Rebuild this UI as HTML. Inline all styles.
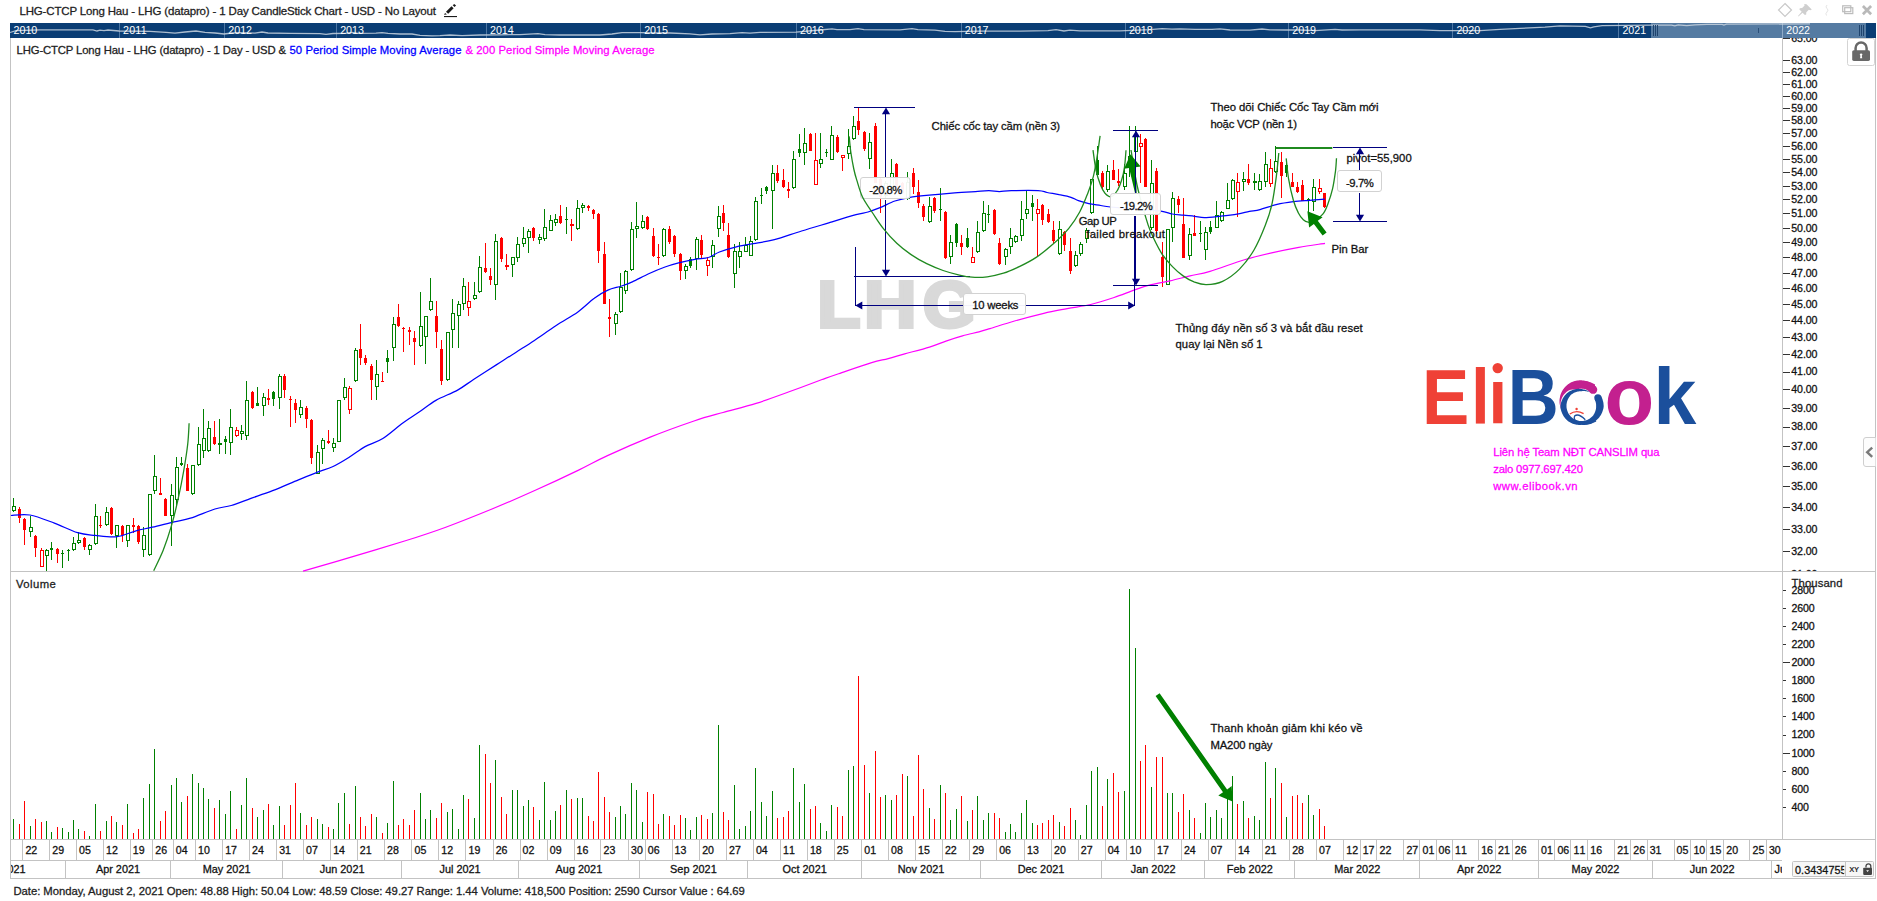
<!DOCTYPE html><html><head><meta charset="utf-8"><title>LHG chart</title><style>html,body{margin:0;padding:0;background:#fff;overflow:hidden}svg{display:block}</style></head><body><svg width="1877" height="901" viewBox="0 0 1877 901" font-family="'Liberation Sans', sans-serif">
<rect width="1877" height="901" fill="#fff"/>
<text x="19.4" y="15.1" font-size="11.5" fill="#222" textLength="416.5" lengthAdjust="spacing" stroke="#222" stroke-width="0.28">LHG-CTCP Long Hau - LHG (datapro) - 1 Day CandleStick Chart - USD - No Layout</text>
<g fill="#1a1a1a"><rect x="444" y="16" width="13" height="1.1"/><path d="M444 14.8 L445.1 12.9 L446.9 14.4 Z"/><path d="M446 11.7 L448.2 13.8 L453.6 8.3 L451.5 6.3 Z"/><path d="M452.7 5.2 L454.2 3.9 L456.1 5.5 L454.5 7.1 Z"/></g>
<g fill="none" stroke="#c9c9c9" stroke-width="1.2"><path d="M1785 3.5 L1791.5 10 L1785 16.5 L1778.5 10 Z"/></g>
<g fill="none" stroke="#bcbcbc" stroke-width="1.2"><rect x="1842.7" y="5.8" width="8.1" height="5.9"/><rect x="1844.7" y="7.7" width="8.1" height="5.9"/></g>
<g stroke="#b9b9b9" stroke-width="2.7" stroke-linecap="butt"><path d="M1862.9 6 L1871.1 14.2 M1871.1 6 L1862.9 14.2"/></g>
<g fill="#cfcfcf" stroke="none"><path d="M1806.5 4.2 L1811.8 9.5 L1810.3 10.2 L1808.8 9.8 L1806.3 12.3 L1806.2 14.6 L1804.9 15 L1802.6 12.7 L1798.4 16.4 L1798 16 L1801.7 11.8 L1799.4 9.5 L1799.8 8.2 L1802.1 8.1 L1804.6 5.6 L1804.2 4.1 Z"/></g>
<g fill="none" stroke="#e4e4e4" stroke-width="1"><path d="M1827 5 q-2 2 0 3.5 q2 1.5 0 3.5 q-2 1.5 -0.5 3.5"/></g>
<rect x="10" y="23" width="1866" height="15" fill="#0a3d74"/>
<rect x="1651" y="23" width="215" height="15" fill="#557ba2"/>
<rect x="119" y="23" width="1" height="15" fill="#4d76a3" shape-rendering="crispEdges"/>
<rect x="224" y="23" width="1" height="15" fill="#4d76a3" shape-rendering="crispEdges"/>
<rect x="336" y="23" width="1" height="15" fill="#4d76a3" shape-rendering="crispEdges"/>
<rect x="486" y="23" width="1" height="15" fill="#4d76a3" shape-rendering="crispEdges"/>
<rect x="640" y="23" width="1" height="15" fill="#4d76a3" shape-rendering="crispEdges"/>
<rect x="796" y="23" width="1" height="15" fill="#4d76a3" shape-rendering="crispEdges"/>
<rect x="961" y="23" width="1" height="15" fill="#4d76a3" shape-rendering="crispEdges"/>
<rect x="1125" y="23" width="1" height="15" fill="#4d76a3" shape-rendering="crispEdges"/>
<rect x="1288" y="23" width="1" height="15" fill="#4d76a3" shape-rendering="crispEdges"/>
<rect x="1452" y="23" width="1" height="15" fill="#4d76a3" shape-rendering="crispEdges"/>
<rect x="1618" y="23" width="1" height="15" fill="#4d76a3" shape-rendering="crispEdges"/>
<rect x="1782" y="23" width="1" height="15" fill="#8fabc8" shape-rendering="crispEdges"/>
<polyline fill="none" stroke="#c9d3df" stroke-opacity="0.85" stroke-width="1.3" points="10,32.5 16,30.6 40,29.8 93,29.8 97,31 100,30.2 104,30.6 108,30 119,31 150,31.4 166,32.3 175,33.2 185,32 196,31 205,32.4 215,33 224,34 232,33 240,32.7 255,33.2 262,32 268,33 290,33.4 320,33.6 326,34.3 333,33.5 345,33.4 352,32.4 358,33.4 376,33.2 382,32.6 388,33.4 400,34 412,34 420,35.3 432,35.8 440,35.6 450,35 462,35.6 480,35 500,34.8 520,34.6 538,33.6 545,34.6 560,35 600,35 612,34 622,32.6 640,32.6 655,33 670,33 690,33.8 700,34.8 712,34 730,33.6 742,32.6 750,33.2 760,32.4 796,32.2 820,30 832,28.8 837,29.6 850,29.6 858,28.6 864,29.6 900,29.8 912,28.6 918,29.6 935,30.2 945,31.4 955,31.6 980,31.2 1020,31.2 1048,30.6 1056,29.6 1064,31 1070,30.2 1080,30.8 1120,30.8 1150,29.6 1162,28.6 1172,29.2 1180,28.8 1195,29.4 1212,29.4 1220,28.8 1230,30 1250,30.2 1262,29 1270,29.8 1285,30 1300,30 1315,30.6 1335,29.4 1342,30 1360,29.8 1420,29.8 1440,30.6 1480,30.6 1500,29.4 1520,28.4 1545,27.2 1560,25.9 1585.3,26.4 1590.4,27.8 1593.8,26.8 1602.2,25.6 1651.2,25.1 1671.5,25.1 1674.9,25.8 1678.2,24.8 1686.7,25.6 1695.1,24.8 1707,24.4 1722.2,24.4 1723.9,25.1 1726.4,24.1 1810,23.9"/>
<text x="13.6" y="33.9" font-size="10.7" fill="#fff" textLength="23.7" lengthAdjust="spacing">2010</text>
<text x="123.0" y="33.9" font-size="10.7" fill="#fff" textLength="23.7" lengthAdjust="spacing">2011</text>
<text x="228.3" y="33.9" font-size="10.7" fill="#fff" textLength="23.7" lengthAdjust="spacing">2012</text>
<text x="340.2" y="33.9" font-size="10.7" fill="#fff" textLength="23.7" lengthAdjust="spacing">2013</text>
<text x="490.0" y="33.9" font-size="10.7" fill="#fff" textLength="23.7" lengthAdjust="spacing">2014</text>
<text x="644.2" y="33.9" font-size="10.7" fill="#fff" textLength="23.7" lengthAdjust="spacing">2015</text>
<text x="800.0" y="33.9" font-size="10.7" fill="#fff" textLength="23.7" lengthAdjust="spacing">2016</text>
<text x="964.8" y="33.9" font-size="10.7" fill="#fff" textLength="23.7" lengthAdjust="spacing">2017</text>
<text x="1128.9" y="33.9" font-size="10.7" fill="#fff" textLength="23.7" lengthAdjust="spacing">2018</text>
<text x="1292.3" y="33.9" font-size="10.7" fill="#fff" textLength="23.7" lengthAdjust="spacing">2019</text>
<text x="1456.4" y="33.9" font-size="10.7" fill="#fff" textLength="23.7" lengthAdjust="spacing">2020</text>
<text x="1622.4" y="33.9" font-size="10.7" fill="#fff" textLength="23.7" lengthAdjust="spacing">2021</text>
<text x="1786.3" y="33.9" font-size="10.7" fill="#fff" textLength="23.7" lengthAdjust="spacing">2022</text>
<rect x="1653" y="25" width="1" height="11" fill="#1f446e" shape-rendering="crispEdges"/>
<rect x="1655" y="25" width="1" height="11" fill="#1f446e" shape-rendering="crispEdges"/>
<rect x="1657" y="25" width="1" height="11" fill="#1f446e" shape-rendering="crispEdges"/>
<rect x="1859" y="25" width="1" height="11" fill="#1f446e" shape-rendering="crispEdges"/>
<rect x="1861" y="25" width="1" height="11" fill="#1f446e" shape-rendering="crispEdges"/>
<rect x="1863" y="25" width="1" height="11" fill="#1f446e" shape-rendering="crispEdges"/>
<rect x="1758" y="28" width="1" height="5" fill="#2a4f78"/>
<g fill="#c3c3c3" shape-rendering="crispEdges">
<rect x="10" y="38" width="1" height="841"/>
<rect x="10" y="571" width="1866" height="1"/>
<rect x="10" y="839" width="1866" height="1"/>
<rect x="10" y="860" width="1772" height="1"/>
<rect x="10" y="878" width="1866" height="1"/>
<rect x="1782" y="38" width="1" height="802"/>
<rect x="1875" y="38" width="1" height="841"/>
</g>
<text x="16.6" y="53.7" font-size="11.3" fill="#222" textLength="269.4" lengthAdjust="spacing" stroke="#222" stroke-width="0.28">LHG-CTCP Long Hau - LHG (datapro) - 1 Day - USD &amp;</text>
<text x="289.5" y="53.7" font-size="11.3" fill="#0000ff" textLength="172.0" lengthAdjust="spacing" stroke="#0000ff" stroke-width="0.28">50 Period Simple Moving Average</text>
<text x="465.4" y="53.7" font-size="11.3" fill="#ff00ff" textLength="189.2" lengthAdjust="spacing" stroke="#ff00ff" stroke-width="0.28">&amp; 200 Period Simple Moving Average</text>
<clipPath id="cpA"><rect x="1783" y="38" width="91" height="533"/></clipPath>
<g clip-path="url(#cpA)">
<rect x="1783" y="573.5" width="7" height="1" fill="#333" shape-rendering="crispEdges"/>
<text x="1791.3" y="577.9" font-size="10.6" fill="#111" textLength="26.2" lengthAdjust="spacing" stroke="#111" stroke-width="0.28">31.00</text>
<rect x="1783" y="550.5" width="7" height="1" fill="#333" shape-rendering="crispEdges"/>
<text x="1791.3" y="554.9" font-size="10.6" fill="#111" textLength="26.2" lengthAdjust="spacing" stroke="#111" stroke-width="0.28">32.00</text>
<rect x="1783" y="528.5" width="7" height="1" fill="#333" shape-rendering="crispEdges"/>
<text x="1791.3" y="532.6" font-size="10.6" fill="#111" textLength="26.2" lengthAdjust="spacing" stroke="#111" stroke-width="0.28">33.00</text>
<rect x="1783" y="506.5" width="7" height="1" fill="#333" shape-rendering="crispEdges"/>
<text x="1791.3" y="511.0" font-size="10.6" fill="#111" textLength="26.2" lengthAdjust="spacing" stroke="#111" stroke-width="0.28">34.00</text>
<rect x="1783" y="485.5" width="7" height="1" fill="#333" shape-rendering="crispEdges"/>
<text x="1791.3" y="490.0" font-size="10.6" fill="#111" textLength="26.2" lengthAdjust="spacing" stroke="#111" stroke-width="0.28">35.00</text>
<rect x="1783" y="465.5" width="7" height="1" fill="#333" shape-rendering="crispEdges"/>
<text x="1791.3" y="469.6" font-size="10.6" fill="#111" textLength="26.2" lengthAdjust="spacing" stroke="#111" stroke-width="0.28">36.00</text>
<rect x="1783" y="445.5" width="7" height="1" fill="#333" shape-rendering="crispEdges"/>
<text x="1791.3" y="449.8" font-size="10.6" fill="#111" textLength="26.2" lengthAdjust="spacing" stroke="#111" stroke-width="0.28">37.00</text>
<rect x="1783" y="426.5" width="7" height="1" fill="#333" shape-rendering="crispEdges"/>
<text x="1791.3" y="430.4" font-size="10.6" fill="#111" textLength="26.2" lengthAdjust="spacing" stroke="#111" stroke-width="0.28">38.00</text>
<rect x="1783" y="407.5" width="7" height="1" fill="#333" shape-rendering="crispEdges"/>
<text x="1791.3" y="411.6" font-size="10.6" fill="#111" textLength="26.2" lengthAdjust="spacing" stroke="#111" stroke-width="0.28">39.00</text>
<rect x="1783" y="388.5" width="7" height="1" fill="#333" shape-rendering="crispEdges"/>
<text x="1791.3" y="393.3" font-size="10.6" fill="#111" textLength="26.2" lengthAdjust="spacing" stroke="#111" stroke-width="0.28">40.00</text>
<rect x="1783" y="371.5" width="7" height="1" fill="#333" shape-rendering="crispEdges"/>
<text x="1791.3" y="375.4" font-size="10.6" fill="#111" textLength="26.2" lengthAdjust="spacing" stroke="#111" stroke-width="0.28">41.00</text>
<rect x="1783" y="353.5" width="7" height="1" fill="#333" shape-rendering="crispEdges"/>
<text x="1791.3" y="358.0" font-size="10.6" fill="#111" textLength="26.2" lengthAdjust="spacing" stroke="#111" stroke-width="0.28">42.00</text>
<rect x="1783" y="336.5" width="7" height="1" fill="#333" shape-rendering="crispEdges"/>
<text x="1791.3" y="340.9" font-size="10.6" fill="#111" textLength="26.2" lengthAdjust="spacing" stroke="#111" stroke-width="0.28">43.00</text>
<rect x="1783" y="319.5" width="7" height="1" fill="#333" shape-rendering="crispEdges"/>
<text x="1791.3" y="324.3" font-size="10.6" fill="#111" textLength="26.2" lengthAdjust="spacing" stroke="#111" stroke-width="0.28">44.00</text>
<rect x="1783" y="303.5" width="7" height="1" fill="#333" shape-rendering="crispEdges"/>
<text x="1791.3" y="308.0" font-size="10.6" fill="#111" textLength="26.2" lengthAdjust="spacing" stroke="#111" stroke-width="0.28">45.00</text>
<rect x="1783" y="287.5" width="7" height="1" fill="#333" shape-rendering="crispEdges"/>
<text x="1791.3" y="292.1" font-size="10.6" fill="#111" textLength="26.2" lengthAdjust="spacing" stroke="#111" stroke-width="0.28">46.00</text>
<rect x="1783" y="272.5" width="7" height="1" fill="#333" shape-rendering="crispEdges"/>
<text x="1791.3" y="276.5" font-size="10.6" fill="#111" textLength="26.2" lengthAdjust="spacing" stroke="#111" stroke-width="0.28">47.00</text>
<rect x="1783" y="256.5" width="7" height="1" fill="#333" shape-rendering="crispEdges"/>
<text x="1791.3" y="261.3" font-size="10.6" fill="#111" textLength="26.2" lengthAdjust="spacing" stroke="#111" stroke-width="0.28">48.00</text>
<rect x="1783" y="241.5" width="7" height="1" fill="#333" shape-rendering="crispEdges"/>
<text x="1791.3" y="246.4" font-size="10.6" fill="#111" textLength="26.2" lengthAdjust="spacing" stroke="#111" stroke-width="0.28">49.00</text>
<rect x="1783" y="227.5" width="7" height="1" fill="#333" shape-rendering="crispEdges"/>
<text x="1791.3" y="231.7" font-size="10.6" fill="#111" textLength="26.2" lengthAdjust="spacing" stroke="#111" stroke-width="0.28">50.00</text>
<rect x="1783" y="212.5" width="7" height="1" fill="#333" shape-rendering="crispEdges"/>
<text x="1791.3" y="217.4" font-size="10.6" fill="#111" textLength="26.2" lengthAdjust="spacing" stroke="#111" stroke-width="0.28">51.00</text>
<rect x="1783" y="198.5" width="7" height="1" fill="#333" shape-rendering="crispEdges"/>
<text x="1791.3" y="203.3" font-size="10.6" fill="#111" textLength="26.2" lengthAdjust="spacing" stroke="#111" stroke-width="0.28">52.00</text>
<rect x="1783" y="185.5" width="7" height="1" fill="#333" shape-rendering="crispEdges"/>
<text x="1791.3" y="189.5" font-size="10.6" fill="#111" textLength="26.2" lengthAdjust="spacing" stroke="#111" stroke-width="0.28">53.00</text>
<rect x="1783" y="171.5" width="7" height="1" fill="#333" shape-rendering="crispEdges"/>
<text x="1791.3" y="176.0" font-size="10.6" fill="#111" textLength="26.2" lengthAdjust="spacing" stroke="#111" stroke-width="0.28">54.00</text>
<rect x="1783" y="158.5" width="7" height="1" fill="#333" shape-rendering="crispEdges"/>
<text x="1791.3" y="162.7" font-size="10.6" fill="#111" textLength="26.2" lengthAdjust="spacing" stroke="#111" stroke-width="0.28">55.00</text>
<rect x="1783" y="145.5" width="7" height="1" fill="#333" shape-rendering="crispEdges"/>
<text x="1791.3" y="149.7" font-size="10.6" fill="#111" textLength="26.2" lengthAdjust="spacing" stroke="#111" stroke-width="0.28">56.00</text>
<rect x="1783" y="132.5" width="7" height="1" fill="#333" shape-rendering="crispEdges"/>
<text x="1791.3" y="136.9" font-size="10.6" fill="#111" textLength="26.2" lengthAdjust="spacing" stroke="#111" stroke-width="0.28">57.00</text>
<rect x="1783" y="119.5" width="7" height="1" fill="#333" shape-rendering="crispEdges"/>
<text x="1791.3" y="124.3" font-size="10.6" fill="#111" textLength="26.2" lengthAdjust="spacing" stroke="#111" stroke-width="0.28">58.00</text>
<rect x="1783" y="107.5" width="7" height="1" fill="#333" shape-rendering="crispEdges"/>
<text x="1791.3" y="111.9" font-size="10.6" fill="#111" textLength="26.2" lengthAdjust="spacing" stroke="#111" stroke-width="0.28">59.00</text>
<rect x="1783" y="95.5" width="7" height="1" fill="#333" shape-rendering="crispEdges"/>
<text x="1791.3" y="99.7" font-size="10.6" fill="#111" textLength="26.2" lengthAdjust="spacing" stroke="#111" stroke-width="0.28">60.00</text>
<rect x="1783" y="83.5" width="7" height="1" fill="#333" shape-rendering="crispEdges"/>
<text x="1791.3" y="87.7" font-size="10.6" fill="#111" textLength="26.2" lengthAdjust="spacing" stroke="#111" stroke-width="0.28">61.00</text>
<rect x="1783" y="71.5" width="7" height="1" fill="#333" shape-rendering="crispEdges"/>
<text x="1791.3" y="76.0" font-size="10.6" fill="#111" textLength="26.2" lengthAdjust="spacing" stroke="#111" stroke-width="0.28">62.00</text>
<rect x="1783" y="59.5" width="7" height="1" fill="#333" shape-rendering="crispEdges"/>
<text x="1791.3" y="64.4" font-size="10.6" fill="#111" textLength="26.2" lengthAdjust="spacing" stroke="#111" stroke-width="0.28">63.00</text>
<rect x="1783" y="37.5" width="7" height="1" fill="#333" shape-rendering="crispEdges"/>
<text x="1791.3" y="41.8" font-size="10.6" fill="#111" textLength="26.2" lengthAdjust="spacing" stroke="#111" stroke-width="0.28">65.00</text>
</g>
<text transform="translate(817.4 327) scale(1.07 1)" font-size="65.4" font-weight="bold" fill="#d9d9d9" stroke="#d9d9d9" stroke-width="4" stroke-linejoin="miter">L</text>
<text transform="translate(864.3 327) scale(1.1 1)" font-size="65.4" font-weight="bold" fill="#d9d9d9" stroke="#d9d9d9" stroke-width="4" stroke-linejoin="miter">H</text>
<text transform="translate(922.9 327) scale(1.03 1)" font-size="65.4" font-weight="bold" fill="#d9d9d9" stroke="#d9d9d9" stroke-width="4" stroke-linejoin="miter">G</text>
<g shape-rendering="crispEdges">
<rect x="13" y="498" width="1" height="14" fill="#008000"/>
<rect x="12.5" y="506.5" width="3" height="4" fill="#fff" stroke="#008000" stroke-width="1"/>
<rect x="19" y="507" width="1" height="16" fill="#ff0000"/>
<rect x="18" y="509" width="3" height="9" fill="#ff0000"/>
<rect x="24" y="518" width="1" height="27" fill="#ff0000"/>
<rect x="23" y="519" width="3" height="11" fill="#ff0000"/>
<rect x="30" y="516" width="1" height="21" fill="#008000"/>
<rect x="29.5" y="527.5" width="3" height="4" fill="#fff" stroke="#008000" stroke-width="1"/>
<rect x="35" y="535" width="1" height="22" fill="#ff0000"/>
<rect x="34" y="536" width="3" height="12" fill="#ff0000"/>
<rect x="41" y="548" width="1" height="19" fill="#ff0000"/>
<rect x="40.5" y="550.5" width="3" height="16" fill="#fff" stroke="#ff0000" stroke-width="1"/>
<rect x="46" y="549" width="1" height="22" fill="#008000"/>
<rect x="45.5" y="550.5" width="3" height="5" fill="#fff" stroke="#008000" stroke-width="1"/>
<rect x="51" y="542" width="1" height="18" fill="#008000"/>
<rect x="50" y="548" width="3" height="2" fill="#008000"/>
<rect x="57" y="548" width="1" height="15" fill="#ff0000"/>
<rect x="56" y="549" width="3" height="5" fill="#ff0000"/>
<rect x="62" y="550" width="1" height="18" fill="#008000"/>
<rect x="61" y="553" width="3" height="1" fill="#008000"/>
<rect x="68" y="549" width="1" height="12" fill="#008000"/>
<rect x="67" y="550" width="3" height="1" fill="#008000"/>
<rect x="73" y="537" width="1" height="14" fill="#008000"/>
<rect x="72.5" y="543.5" width="3" height="6" fill="#fff" stroke="#008000" stroke-width="1"/>
<rect x="78" y="532" width="1" height="12" fill="#008000"/>
<rect x="77.5" y="540.5" width="3" height="2" fill="#fff" stroke="#008000" stroke-width="1"/>
<rect x="84" y="537" width="1" height="13" fill="#ff0000"/>
<rect x="83" y="538" width="3" height="9" fill="#ff0000"/>
<rect x="89" y="544" width="1" height="11" fill="#008000"/>
<rect x="88.5" y="545.5" width="3" height="4" fill="#fff" stroke="#008000" stroke-width="1"/>
<rect x="95" y="504" width="1" height="41" fill="#008000"/>
<rect x="94.5" y="516.5" width="3" height="27" fill="#fff" stroke="#008000" stroke-width="1"/>
<rect x="100" y="516" width="1" height="12" fill="#ff0000"/>
<rect x="99" y="525" width="3" height="1" fill="#ff0000"/>
<rect x="106" y="507" width="1" height="19" fill="#008000"/>
<rect x="105.5" y="512.5" width="3" height="12" fill="#fff" stroke="#008000" stroke-width="1"/>
<rect x="111" y="507" width="1" height="28" fill="#ff0000"/>
<rect x="110" y="508" width="3" height="26" fill="#ff0000"/>
<rect x="116" y="525" width="1" height="23" fill="#008000"/>
<rect x="115.5" y="525.5" width="3" height="10" fill="#fff" stroke="#008000" stroke-width="1"/>
<rect x="122" y="525" width="1" height="17" fill="#ff0000"/>
<rect x="121" y="526" width="3" height="9" fill="#ff0000"/>
<rect x="127" y="525" width="1" height="22" fill="#008000"/>
<rect x="126.5" y="525.5" width="3" height="15" fill="#fff" stroke="#008000" stroke-width="1"/>
<rect x="133" y="518" width="1" height="15" fill="#ff0000"/>
<rect x="132" y="525" width="3" height="2" fill="#ff0000"/>
<rect x="138" y="525" width="1" height="19" fill="#ff0000"/>
<rect x="137" y="526" width="3" height="16" fill="#ff0000"/>
<rect x="143" y="527" width="1" height="30" fill="#008000"/>
<rect x="142.5" y="535.5" width="3" height="14" fill="#fff" stroke="#008000" stroke-width="1"/>
<rect x="149" y="494" width="1" height="62" fill="#008000"/>
<rect x="148.5" y="494.5" width="3" height="60" fill="#fff" stroke="#008000" stroke-width="1"/>
<rect x="154" y="455" width="1" height="39" fill="#008000"/>
<rect x="153.5" y="476.5" width="3" height="14" fill="#fff" stroke="#008000" stroke-width="1"/>
<rect x="160" y="478" width="1" height="17" fill="#ff0000"/>
<rect x="159" y="493" width="3" height="2" fill="#ff0000"/>
<rect x="165" y="498" width="1" height="18" fill="#ff0000"/>
<rect x="164" y="499" width="3" height="17" fill="#ff0000"/>
<rect x="171" y="484" width="1" height="62" fill="#008000"/>
<rect x="170.5" y="495.5" width="3" height="20" fill="#fff" stroke="#008000" stroke-width="1"/>
<rect x="176" y="457" width="1" height="50" fill="#008000"/>
<rect x="175.5" y="467.5" width="3" height="32" fill="#fff" stroke="#008000" stroke-width="1"/>
<rect x="181" y="457" width="1" height="9" fill="#008000"/>
<rect x="180" y="463" width="3" height="2" fill="#008000"/>
<rect x="187" y="464" width="1" height="27" fill="#ff0000"/>
<rect x="186" y="468" width="3" height="23" fill="#ff0000"/>
<rect x="192" y="465" width="1" height="30" fill="#008000"/>
<rect x="191.5" y="465.5" width="3" height="28" fill="#fff" stroke="#008000" stroke-width="1"/>
<rect x="198" y="427" width="1" height="39" fill="#008000"/>
<rect x="197.5" y="444.5" width="3" height="20" fill="#fff" stroke="#008000" stroke-width="1"/>
<rect x="203" y="409" width="1" height="49" fill="#008000"/>
<rect x="202.5" y="438.5" width="3" height="12" fill="#fff" stroke="#008000" stroke-width="1"/>
<rect x="208" y="421" width="1" height="31" fill="#008000"/>
<rect x="207.5" y="428.5" width="3" height="22" fill="#fff" stroke="#008000" stroke-width="1"/>
<rect x="214" y="421" width="1" height="24" fill="#ff0000"/>
<rect x="213" y="437" width="3" height="7" fill="#ff0000"/>
<rect x="219" y="419" width="1" height="35" fill="#008000"/>
<rect x="218" y="443" width="4" height="2" fill="#008000"/>
<rect x="225" y="436" width="1" height="18" fill="#008000"/>
<rect x="224" y="439" width="3" height="3" fill="#008000"/>
<rect x="230" y="409" width="1" height="46" fill="#008000"/>
<rect x="229.5" y="427.5" width="3" height="15" fill="#fff" stroke="#008000" stroke-width="1"/>
<rect x="236" y="427" width="1" height="10" fill="#ff0000"/>
<rect x="235.5" y="430.5" width="3" height="5" fill="#fff" stroke="#ff0000" stroke-width="1"/>
<rect x="241" y="425" width="1" height="15" fill="#008000"/>
<rect x="240.5" y="431.5" width="3" height="2" fill="#fff" stroke="#008000" stroke-width="1"/>
<rect x="246" y="381" width="1" height="59" fill="#008000"/>
<rect x="245.5" y="400.5" width="3" height="35" fill="#fff" stroke="#008000" stroke-width="1"/>
<rect x="252" y="391" width="1" height="18" fill="#ff0000"/>
<rect x="251" y="392" width="3" height="16" fill="#ff0000"/>
<rect x="257" y="387" width="1" height="19" fill="#008000"/>
<rect x="256" y="403" width="3" height="3" fill="#008000"/>
<rect x="263" y="393" width="1" height="23" fill="#008000"/>
<rect x="262.5" y="397.5" width="3" height="8" fill="#fff" stroke="#008000" stroke-width="1"/>
<rect x="268" y="389" width="1" height="16" fill="#ff0000"/>
<rect x="267" y="398" width="3" height="2" fill="#ff0000"/>
<rect x="273" y="391" width="1" height="15" fill="#008000"/>
<rect x="272" y="392" width="3" height="7" fill="#008000"/>
<rect x="279" y="374" width="1" height="35" fill="#008000"/>
<rect x="278.5" y="376.5" width="3" height="21" fill="#fff" stroke="#008000" stroke-width="1"/>
<rect x="284" y="374" width="1" height="24" fill="#ff0000"/>
<rect x="283" y="376" width="3" height="14" fill="#ff0000"/>
<rect x="290" y="396" width="1" height="31" fill="#ff0000"/>
<rect x="289" y="399" width="3" height="1" fill="#ff0000"/>
<rect x="295" y="399" width="1" height="24" fill="#ff0000"/>
<rect x="294" y="403" width="3" height="7" fill="#ff0000"/>
<rect x="300" y="400" width="1" height="18" fill="#008000"/>
<rect x="299.5" y="407.5" width="3" height="7" fill="#fff" stroke="#008000" stroke-width="1"/>
<rect x="306" y="406" width="1" height="22" fill="#ff0000"/>
<rect x="305" y="408" width="3" height="11" fill="#ff0000"/>
<rect x="311" y="419" width="1" height="45" fill="#ff0000"/>
<rect x="310" y="420" width="3" height="38" fill="#ff0000"/>
<rect x="317" y="445" width="1" height="29" fill="#008000"/>
<rect x="316.5" y="452.5" width="3" height="21" fill="#fff" stroke="#008000" stroke-width="1"/>
<rect x="322" y="438" width="1" height="26" fill="#008000"/>
<rect x="321.5" y="440.5" width="3" height="8" fill="#fff" stroke="#008000" stroke-width="1"/>
<rect x="328" y="430" width="1" height="14" fill="#ff0000"/>
<rect x="327" y="441" width="3" height="2" fill="#ff0000"/>
<rect x="333" y="438" width="1" height="14" fill="#008000"/>
<rect x="332.5" y="443.5" width="3" height="4" fill="#fff" stroke="#008000" stroke-width="1"/>
<rect x="338" y="400" width="1" height="42" fill="#008000"/>
<rect x="337.5" y="400.5" width="3" height="41" fill="#fff" stroke="#008000" stroke-width="1"/>
<rect x="344" y="378" width="1" height="22" fill="#008000"/>
<rect x="343.5" y="387.5" width="3" height="10" fill="#fff" stroke="#008000" stroke-width="1"/>
<rect x="349" y="386" width="1" height="28" fill="#ff0000"/>
<rect x="348.5" y="388.5" width="3" height="21" fill="#fff" stroke="#ff0000" stroke-width="1"/>
<rect x="355" y="348" width="1" height="34" fill="#008000"/>
<rect x="354.5" y="350.5" width="3" height="30" fill="#fff" stroke="#008000" stroke-width="1"/>
<rect x="360" y="324" width="1" height="41" fill="#ff0000"/>
<rect x="359" y="349" width="3" height="9" fill="#ff0000"/>
<rect x="365" y="355" width="1" height="10" fill="#ff0000"/>
<rect x="364" y="358" width="3" height="5" fill="#ff0000"/>
<rect x="371" y="364" width="1" height="36" fill="#ff0000"/>
<rect x="370" y="366" width="3" height="14" fill="#ff0000"/>
<rect x="376" y="360" width="1" height="40" fill="#008000"/>
<rect x="375.5" y="374.5" width="3" height="12" fill="#fff" stroke="#008000" stroke-width="1"/>
<rect x="382" y="372" width="1" height="10" fill="#ff0000"/>
<rect x="381" y="381" width="3" height="1" fill="#ff0000"/>
<rect x="387" y="350" width="1" height="23" fill="#008000"/>
<rect x="386" y="358" width="3" height="4" fill="#008000"/>
<rect x="393" y="317" width="1" height="44" fill="#008000"/>
<rect x="392.5" y="324.5" width="3" height="23" fill="#fff" stroke="#008000" stroke-width="1"/>
<rect x="398" y="304" width="1" height="23" fill="#ff0000"/>
<rect x="397" y="317" width="3" height="9" fill="#ff0000"/>
<rect x="403" y="327" width="1" height="25" fill="#ff0000"/>
<rect x="402" y="328" width="3" height="1" fill="#ff0000"/>
<rect x="409" y="327" width="1" height="18" fill="#ff0000"/>
<rect x="408" y="330" width="3" height="2" fill="#ff0000"/>
<rect x="414" y="331" width="1" height="34" fill="#ff0000"/>
<rect x="413" y="338" width="3" height="4" fill="#ff0000"/>
<rect x="420" y="292" width="1" height="55" fill="#008000"/>
<rect x="419.5" y="326.5" width="3" height="19" fill="#fff" stroke="#008000" stroke-width="1"/>
<rect x="425" y="316" width="1" height="48" fill="#008000"/>
<rect x="424.5" y="316.5" width="3" height="20" fill="#fff" stroke="#008000" stroke-width="1"/>
<rect x="430" y="278" width="1" height="33" fill="#008000"/>
<rect x="429.5" y="301.5" width="3" height="8" fill="#fff" stroke="#008000" stroke-width="1"/>
<rect x="436" y="301" width="1" height="47" fill="#ff0000"/>
<rect x="435" y="316" width="3" height="16" fill="#ff0000"/>
<rect x="441" y="340" width="1" height="45" fill="#ff0000"/>
<rect x="440" y="349" width="3" height="32" fill="#ff0000"/>
<rect x="447" y="332" width="1" height="49" fill="#008000"/>
<rect x="446.5" y="332.5" width="3" height="47" fill="#fff" stroke="#008000" stroke-width="1"/>
<rect x="452" y="299" width="1" height="49" fill="#008000"/>
<rect x="451.5" y="313.5" width="3" height="16" fill="#fff" stroke="#008000" stroke-width="1"/>
<rect x="458" y="301" width="1" height="47" fill="#008000"/>
<rect x="457.5" y="304.5" width="3" height="11" fill="#fff" stroke="#008000" stroke-width="1"/>
<rect x="463" y="278" width="1" height="32" fill="#008000"/>
<rect x="462.5" y="286.5" width="3" height="17" fill="#fff" stroke="#008000" stroke-width="1"/>
<rect x="468" y="282" width="1" height="34" fill="#ff0000"/>
<rect x="467.5" y="301.5" width="3" height="6" fill="#fff" stroke="#ff0000" stroke-width="1"/>
<rect x="474" y="282" width="1" height="18" fill="#008000"/>
<rect x="473.5" y="295.5" width="3" height="3" fill="#fff" stroke="#008000" stroke-width="1"/>
<rect x="479" y="256" width="1" height="37" fill="#008000"/>
<rect x="478.5" y="267.5" width="3" height="24" fill="#fff" stroke="#008000" stroke-width="1"/>
<rect x="485" y="243" width="1" height="30" fill="#ff0000"/>
<rect x="484" y="268" width="3" height="4" fill="#ff0000"/>
<rect x="490" y="268" width="1" height="17" fill="#ff0000"/>
<rect x="489" y="276" width="3" height="4" fill="#ff0000"/>
<rect x="495" y="234" width="1" height="66" fill="#008000"/>
<rect x="494.5" y="241.5" width="3" height="43" fill="#fff" stroke="#008000" stroke-width="1"/>
<rect x="501" y="237" width="1" height="25" fill="#ff0000"/>
<rect x="500" y="238" width="3" height="21" fill="#ff0000"/>
<rect x="506" y="254" width="1" height="16" fill="#ff0000"/>
<rect x="505" y="265" width="4" height="2" fill="#ff0000"/>
<rect x="512" y="257" width="1" height="20" fill="#008000"/>
<rect x="511.5" y="257.5" width="3" height="7" fill="#fff" stroke="#008000" stroke-width="1"/>
<rect x="517" y="237" width="1" height="25" fill="#008000"/>
<rect x="516.5" y="244.5" width="3" height="13" fill="#fff" stroke="#008000" stroke-width="1"/>
<rect x="523" y="227" width="1" height="20" fill="#008000"/>
<rect x="522.5" y="238.5" width="3" height="5" fill="#fff" stroke="#008000" stroke-width="1"/>
<rect x="528" y="229" width="1" height="24" fill="#008000"/>
<rect x="527.5" y="231.5" width="3" height="6" fill="#fff" stroke="#008000" stroke-width="1"/>
<rect x="533" y="227" width="1" height="14" fill="#ff0000"/>
<rect x="532" y="228" width="3" height="10" fill="#ff0000"/>
<rect x="539" y="234" width="1" height="10" fill="#008000"/>
<rect x="538.5" y="237.5" width="3" height="2" fill="#fff" stroke="#008000" stroke-width="1"/>
<rect x="544" y="209" width="1" height="32" fill="#008000"/>
<rect x="543.5" y="227.5" width="3" height="11" fill="#fff" stroke="#008000" stroke-width="1"/>
<rect x="550" y="215" width="1" height="16" fill="#008000"/>
<rect x="549.5" y="220.5" width="3" height="10" fill="#fff" stroke="#008000" stroke-width="1"/>
<rect x="555" y="214" width="1" height="12" fill="#008000"/>
<rect x="554.5" y="219.5" width="3" height="3" fill="#fff" stroke="#008000" stroke-width="1"/>
<rect x="560" y="205" width="1" height="19" fill="#ff0000"/>
<rect x="559" y="216" width="3" height="7" fill="#ff0000"/>
<rect x="566" y="207" width="1" height="27" fill="#008000"/>
<rect x="565" y="219" width="3" height="1" fill="#008000"/>
<rect x="571" y="219" width="1" height="22" fill="#ff0000"/>
<rect x="570" y="224" width="4" height="2" fill="#ff0000"/>
<rect x="577" y="200" width="1" height="30" fill="#008000"/>
<rect x="576.5" y="208.5" width="3" height="20" fill="#fff" stroke="#008000" stroke-width="1"/>
<rect x="582" y="203" width="1" height="10" fill="#008000"/>
<rect x="581.5" y="205.5" width="3" height="2" fill="#fff" stroke="#008000" stroke-width="1"/>
<rect x="588" y="205" width="1" height="6" fill="#ff0000"/>
<rect x="587" y="206" width="3" height="2" fill="#ff0000"/>
<rect x="593" y="209" width="1" height="10" fill="#ff0000"/>
<rect x="592" y="210" width="3" height="4" fill="#ff0000"/>
<rect x="598" y="213" width="1" height="50" fill="#ff0000"/>
<rect x="597" y="214" width="3" height="37" fill="#ff0000"/>
<rect x="604" y="242" width="1" height="62" fill="#ff0000"/>
<rect x="603" y="254" width="3" height="50" fill="#ff0000"/>
<rect x="609" y="299" width="1" height="38" fill="#ff0000"/>
<rect x="608" y="317" width="3" height="2" fill="#ff0000"/>
<rect x="615" y="312" width="1" height="23" fill="#008000"/>
<rect x="614.5" y="314.5" width="3" height="9" fill="#fff" stroke="#008000" stroke-width="1"/>
<rect x="620" y="273" width="1" height="40" fill="#008000"/>
<rect x="619.5" y="287.5" width="3" height="24" fill="#fff" stroke="#008000" stroke-width="1"/>
<rect x="625" y="270" width="1" height="24" fill="#008000"/>
<rect x="624.5" y="271.5" width="3" height="19" fill="#fff" stroke="#008000" stroke-width="1"/>
<rect x="631" y="222" width="1" height="49" fill="#008000"/>
<rect x="630.5" y="229.5" width="3" height="40" fill="#fff" stroke="#008000" stroke-width="1"/>
<rect x="636" y="202" width="1" height="36" fill="#008000"/>
<rect x="635.5" y="226.5" width="3" height="2" fill="#fff" stroke="#008000" stroke-width="1"/>
<rect x="642" y="215" width="1" height="14" fill="#008000"/>
<rect x="641.5" y="221.5" width="3" height="6" fill="#fff" stroke="#008000" stroke-width="1"/>
<rect x="647" y="216" width="1" height="14" fill="#ff0000"/>
<rect x="646" y="217" width="3" height="12" fill="#ff0000"/>
<rect x="653" y="228" width="1" height="29" fill="#ff0000"/>
<rect x="652" y="236" width="3" height="20" fill="#ff0000"/>
<rect x="658" y="244" width="1" height="21" fill="#ff0000"/>
<rect x="657" y="257" width="3" height="1" fill="#ff0000"/>
<rect x="663" y="228" width="1" height="29" fill="#008000"/>
<rect x="662.5" y="229.5" width="3" height="26" fill="#fff" stroke="#008000" stroke-width="1"/>
<rect x="669" y="226" width="1" height="18" fill="#ff0000"/>
<rect x="668" y="229" width="3" height="13" fill="#ff0000"/>
<rect x="674" y="235" width="1" height="22" fill="#ff0000"/>
<rect x="673" y="236" width="3" height="18" fill="#ff0000"/>
<rect x="680" y="253" width="1" height="27" fill="#ff0000"/>
<rect x="679" y="254" width="3" height="17" fill="#ff0000"/>
<rect x="685" y="264" width="1" height="15" fill="#008000"/>
<rect x="684.5" y="266.5" width="3" height="4" fill="#fff" stroke="#008000" stroke-width="1"/>
<rect x="690" y="257" width="1" height="11" fill="#008000"/>
<rect x="689" y="259" width="3" height="7" fill="#008000"/>
<rect x="696" y="237" width="1" height="33" fill="#008000"/>
<rect x="695.5" y="239.5" width="3" height="19" fill="#fff" stroke="#008000" stroke-width="1"/>
<rect x="701" y="235" width="1" height="23" fill="#ff0000"/>
<rect x="700" y="240" width="3" height="15" fill="#ff0000"/>
<rect x="707" y="257" width="1" height="19" fill="#ff0000"/>
<rect x="706.5" y="260.5" width="3" height="5" fill="#fff" stroke="#ff0000" stroke-width="1"/>
<rect x="712" y="240" width="1" height="28" fill="#008000"/>
<rect x="711.5" y="245.5" width="3" height="11" fill="#fff" stroke="#008000" stroke-width="1"/>
<rect x="718" y="206" width="1" height="31" fill="#008000"/>
<rect x="717.5" y="216.5" width="3" height="12" fill="#fff" stroke="#008000" stroke-width="1"/>
<rect x="723" y="205" width="1" height="26" fill="#ff0000"/>
<rect x="722" y="213" width="3" height="10" fill="#ff0000"/>
<rect x="728" y="223" width="1" height="35" fill="#ff0000"/>
<rect x="727" y="235" width="3" height="22" fill="#ff0000"/>
<rect x="734" y="244" width="1" height="44" fill="#008000"/>
<rect x="733.5" y="251.5" width="3" height="22" fill="#fff" stroke="#008000" stroke-width="1"/>
<rect x="739" y="242" width="1" height="26" fill="#008000"/>
<rect x="738.5" y="251.5" width="3" height="5" fill="#fff" stroke="#008000" stroke-width="1"/>
<rect x="745" y="237" width="1" height="15" fill="#008000"/>
<rect x="744.5" y="245.5" width="3" height="6" fill="#fff" stroke="#008000" stroke-width="1"/>
<rect x="750" y="236" width="1" height="20" fill="#008000"/>
<rect x="749.5" y="241.5" width="3" height="14" fill="#fff" stroke="#008000" stroke-width="1"/>
<rect x="755" y="197" width="1" height="44" fill="#008000"/>
<rect x="754.5" y="201.5" width="3" height="38" fill="#fff" stroke="#008000" stroke-width="1"/>
<rect x="761" y="188" width="1" height="16" fill="#008000"/>
<rect x="760" y="195" width="3" height="1" fill="#008000"/>
<rect x="766" y="186" width="1" height="8" fill="#008000"/>
<rect x="765" y="187" width="3" height="4" fill="#008000"/>
<rect x="772" y="165" width="1" height="64" fill="#008000"/>
<rect x="771.5" y="173.5" width="3" height="17" fill="#fff" stroke="#008000" stroke-width="1"/>
<rect x="777" y="165" width="1" height="18" fill="#ff0000"/>
<rect x="776" y="173" width="3" height="8" fill="#ff0000"/>
<rect x="783" y="169" width="1" height="19" fill="#ff0000"/>
<rect x="782" y="180" width="3" height="7" fill="#ff0000"/>
<rect x="788" y="182" width="1" height="16" fill="#ff0000"/>
<rect x="787" y="189" width="3" height="2" fill="#ff0000"/>
<rect x="793" y="151" width="1" height="38" fill="#008000"/>
<rect x="792.5" y="159.5" width="3" height="28" fill="#fff" stroke="#008000" stroke-width="1"/>
<rect x="799" y="134" width="1" height="23" fill="#008000"/>
<rect x="798" y="149" width="3" height="4" fill="#008000"/>
<rect x="804" y="128" width="1" height="37" fill="#008000"/>
<rect x="803.5" y="143.5" width="3" height="9" fill="#fff" stroke="#008000" stroke-width="1"/>
<rect x="810" y="133" width="1" height="18" fill="#ff0000"/>
<rect x="809" y="134" width="3" height="17" fill="#ff0000"/>
<rect x="815" y="133" width="1" height="52" fill="#ff0000"/>
<rect x="814.5" y="160.5" width="3" height="24" fill="#fff" stroke="#ff0000" stroke-width="1"/>
<rect x="820" y="133" width="1" height="35" fill="#008000"/>
<rect x="819.5" y="159.5" width="3" height="4" fill="#fff" stroke="#008000" stroke-width="1"/>
<rect x="826" y="149" width="1" height="8" fill="#008000"/>
<rect x="825" y="152" width="3" height="1" fill="#008000"/>
<rect x="831" y="126" width="1" height="34" fill="#008000"/>
<rect x="830.5" y="135.5" width="3" height="24" fill="#fff" stroke="#008000" stroke-width="1"/>
<rect x="837" y="135" width="1" height="18" fill="#ff0000"/>
<rect x="836" y="137" width="3" height="15" fill="#ff0000"/>
<rect x="842" y="155" width="1" height="16" fill="#ff0000"/>
<rect x="841.5" y="155.5" width="3" height="2" fill="#fff" stroke="#ff0000" stroke-width="1"/>
<rect x="848" y="129" width="1" height="30" fill="#008000"/>
<rect x="847.5" y="146.5" width="3" height="7" fill="#fff" stroke="#008000" stroke-width="1"/>
<rect x="853" y="116" width="1" height="24" fill="#008000"/>
<rect x="852.5" y="126.5" width="3" height="12" fill="#fff" stroke="#008000" stroke-width="1"/>
<rect x="858" y="108" width="1" height="27" fill="#ff0000"/>
<rect x="857" y="121" width="3" height="9" fill="#ff0000"/>
<rect x="864" y="131" width="1" height="20" fill="#ff0000"/>
<rect x="863" y="132" width="3" height="17" fill="#ff0000"/>
<rect x="869" y="133" width="1" height="36" fill="#008000"/>
<rect x="868.5" y="142.5" width="3" height="16" fill="#fff" stroke="#008000" stroke-width="1"/>
<rect x="875" y="123" width="1" height="60" fill="#ff0000"/>
<rect x="874" y="126" width="3" height="57" fill="#ff0000"/>
<rect x="880" y="177" width="1" height="36" fill="#ff0000"/>
<rect x="879" y="179" width="3" height="18" fill="#ff0000"/>
<rect x="885" y="181" width="1" height="17" fill="#008000"/>
<rect x="884.5" y="183.5" width="3" height="12" fill="#fff" stroke="#008000" stroke-width="1"/>
<rect x="891" y="159" width="1" height="31" fill="#008000"/>
<rect x="890.5" y="173.5" width="3" height="14" fill="#fff" stroke="#008000" stroke-width="1"/>
<rect x="896" y="163" width="1" height="28" fill="#ff0000"/>
<rect x="895" y="164" width="3" height="25" fill="#ff0000"/>
<rect x="902" y="182" width="1" height="12" fill="#ff0000"/>
<rect x="901" y="183" width="3" height="10" fill="#ff0000"/>
<rect x="907" y="172" width="1" height="28" fill="#008000"/>
<rect x="906.5" y="182.5" width="3" height="16" fill="#fff" stroke="#008000" stroke-width="1"/>
<rect x="913" y="168" width="1" height="26" fill="#ff0000"/>
<rect x="912" y="173" width="3" height="14" fill="#ff0000"/>
<rect x="918" y="180" width="1" height="28" fill="#ff0000"/>
<rect x="917" y="192" width="3" height="11" fill="#ff0000"/>
<rect x="923" y="204" width="1" height="17" fill="#ff0000"/>
<rect x="922" y="206" width="3" height="11" fill="#ff0000"/>
<rect x="929" y="197" width="1" height="26" fill="#008000"/>
<rect x="928.5" y="206.5" width="3" height="15" fill="#fff" stroke="#008000" stroke-width="1"/>
<rect x="934" y="197" width="1" height="16" fill="#ff0000"/>
<rect x="933" y="198" width="3" height="13" fill="#ff0000"/>
<rect x="940" y="188" width="1" height="33" fill="#008000"/>
<rect x="939" y="209" width="3" height="1" fill="#008000"/>
<rect x="945" y="211" width="1" height="48" fill="#ff0000"/>
<rect x="944" y="212" width="3" height="46" fill="#ff0000"/>
<rect x="950" y="235" width="1" height="29" fill="#008000"/>
<rect x="949.5" y="242.5" width="3" height="14" fill="#fff" stroke="#008000" stroke-width="1"/>
<rect x="956" y="223" width="1" height="24" fill="#008000"/>
<rect x="955" y="224" width="3" height="19" fill="#008000"/>
<rect x="961" y="235" width="1" height="20" fill="#ff0000"/>
<rect x="960" y="243" width="3" height="4" fill="#ff0000"/>
<rect x="967" y="228" width="1" height="20" fill="#008000"/>
<rect x="966" y="238" width="3" height="9" fill="#008000"/>
<rect x="972" y="247" width="1" height="16" fill="#ff0000"/>
<rect x="971.5" y="257.5" width="3" height="5" fill="#fff" stroke="#ff0000" stroke-width="1"/>
<rect x="977" y="221" width="1" height="32" fill="#008000"/>
<rect x="976.5" y="232.5" width="3" height="19" fill="#fff" stroke="#008000" stroke-width="1"/>
<rect x="983" y="201" width="1" height="31" fill="#008000"/>
<rect x="982.5" y="213.5" width="3" height="17" fill="#fff" stroke="#008000" stroke-width="1"/>
<rect x="988" y="205" width="1" height="18" fill="#008000"/>
<rect x="987" y="214" width="3" height="1" fill="#008000"/>
<rect x="994" y="209" width="1" height="26" fill="#ff0000"/>
<rect x="993" y="210" width="3" height="24" fill="#ff0000"/>
<rect x="999" y="238" width="1" height="27" fill="#ff0000"/>
<rect x="998" y="243" width="3" height="21" fill="#ff0000"/>
<rect x="1005" y="248" width="1" height="17" fill="#008000"/>
<rect x="1004.5" y="249.5" width="3" height="7" fill="#fff" stroke="#008000" stroke-width="1"/>
<rect x="1010" y="228" width="1" height="26" fill="#008000"/>
<rect x="1009.5" y="238.5" width="3" height="8" fill="#fff" stroke="#008000" stroke-width="1"/>
<rect x="1015" y="235" width="1" height="8" fill="#008000"/>
<rect x="1014.5" y="236.5" width="3" height="5" fill="#fff" stroke="#008000" stroke-width="1"/>
<rect x="1021" y="201" width="1" height="40" fill="#008000"/>
<rect x="1020.5" y="219.5" width="3" height="16" fill="#fff" stroke="#008000" stroke-width="1"/>
<rect x="1026" y="191" width="1" height="28" fill="#008000"/>
<rect x="1025.5" y="209.5" width="3" height="4" fill="#fff" stroke="#008000" stroke-width="1"/>
<rect x="1032" y="195" width="1" height="26" fill="#008000"/>
<rect x="1031" y="203" width="3" height="4" fill="#008000"/>
<rect x="1037" y="199" width="1" height="58" fill="#ff0000"/>
<rect x="1036.5" y="209.5" width="3" height="4" fill="#fff" stroke="#ff0000" stroke-width="1"/>
<rect x="1042" y="204" width="1" height="21" fill="#ff0000"/>
<rect x="1041" y="205" width="3" height="15" fill="#ff0000"/>
<rect x="1048" y="209" width="1" height="14" fill="#ff0000"/>
<rect x="1047" y="214" width="3" height="8" fill="#ff0000"/>
<rect x="1053" y="221" width="1" height="22" fill="#ff0000"/>
<rect x="1052" y="230" width="3" height="11" fill="#ff0000"/>
<rect x="1059" y="221" width="1" height="34" fill="#008000"/>
<rect x="1058.5" y="229.5" width="3" height="24" fill="#fff" stroke="#008000" stroke-width="1"/>
<rect x="1064" y="231" width="1" height="20" fill="#ff0000"/>
<rect x="1063" y="232" width="3" height="13" fill="#ff0000"/>
<rect x="1070" y="238" width="1" height="36" fill="#ff0000"/>
<rect x="1069" y="251" width="3" height="20" fill="#ff0000"/>
<rect x="1075" y="251" width="1" height="16" fill="#008000"/>
<rect x="1074.5" y="255.5" width="3" height="10" fill="#fff" stroke="#008000" stroke-width="1"/>
<rect x="1080" y="242" width="1" height="14" fill="#008000"/>
<rect x="1079.5" y="244.5" width="3" height="9" fill="#fff" stroke="#008000" stroke-width="1"/>
<rect x="1086" y="228" width="1" height="15" fill="#008000"/>
<rect x="1085.5" y="230.5" width="3" height="8" fill="#fff" stroke="#008000" stroke-width="1"/>
<rect x="1091" y="179" width="1" height="35" fill="#008000"/>
<rect x="1090.5" y="179.5" width="3" height="33" fill="#fff" stroke="#008000" stroke-width="1"/>
<rect x="1097" y="146" width="1" height="31" fill="#008000"/>
<rect x="1096" y="160" width="3" height="15" fill="#008000"/>
<rect x="1102" y="171" width="1" height="19" fill="#ff0000"/>
<rect x="1101" y="173" width="3" height="14" fill="#ff0000"/>
<rect x="1107" y="165" width="1" height="27" fill="#008000"/>
<rect x="1106.5" y="171.5" width="3" height="18" fill="#fff" stroke="#008000" stroke-width="1"/>
<rect x="1113" y="160" width="1" height="20" fill="#ff0000"/>
<rect x="1112" y="170" width="3" height="10" fill="#ff0000"/>
<rect x="1118" y="169" width="1" height="17" fill="#ff0000"/>
<rect x="1117" y="181" width="3" height="2" fill="#ff0000"/>
<rect x="1124" y="164" width="1" height="26" fill="#008000"/>
<rect x="1123.5" y="173.5" width="3" height="13" fill="#fff" stroke="#008000" stroke-width="1"/>
<rect x="1129" y="126" width="1" height="51" fill="#008000"/>
<rect x="1128.5" y="156.5" width="3" height="11" fill="#fff" stroke="#008000" stroke-width="1"/>
<rect x="1135" y="126" width="1" height="26" fill="#008000"/>
<rect x="1134.5" y="135.5" width="3" height="16" fill="#fff" stroke="#008000" stroke-width="1"/>
<rect x="1140" y="134" width="1" height="49" fill="#ff0000"/>
<rect x="1139.5" y="143.5" width="3" height="3" fill="#fff" stroke="#ff0000" stroke-width="1"/>
<rect x="1145" y="138" width="1" height="49" fill="#ff0000"/>
<rect x="1144" y="139" width="3" height="48" fill="#ff0000"/>
<rect x="1151" y="160" width="1" height="70" fill="#008000"/>
<rect x="1150.5" y="183.5" width="3" height="44" fill="#fff" stroke="#008000" stroke-width="1"/>
<rect x="1156" y="168" width="1" height="66" fill="#ff0000"/>
<rect x="1155" y="171" width="3" height="60" fill="#ff0000"/>
<rect x="1162" y="242" width="1" height="45" fill="#ff0000"/>
<rect x="1161" y="257" width="3" height="20" fill="#ff0000"/>
<rect x="1167" y="229" width="1" height="56" fill="#008000"/>
<rect x="1166.5" y="229.5" width="3" height="55" fill="#fff" stroke="#008000" stroke-width="1"/>
<rect x="1172" y="192" width="1" height="50" fill="#008000"/>
<rect x="1171.5" y="198.5" width="3" height="29" fill="#fff" stroke="#008000" stroke-width="1"/>
<rect x="1178" y="196" width="1" height="17" fill="#ff0000"/>
<rect x="1177" y="199" width="3" height="6" fill="#ff0000"/>
<rect x="1183" y="198" width="1" height="60" fill="#ff0000"/>
<rect x="1182" y="224" width="3" height="34" fill="#ff0000"/>
<rect x="1189" y="228" width="1" height="32" fill="#008000"/>
<rect x="1188.5" y="234.5" width="3" height="21" fill="#fff" stroke="#008000" stroke-width="1"/>
<rect x="1194" y="215" width="1" height="21" fill="#ff0000"/>
<rect x="1193" y="233" width="3" height="3" fill="#ff0000"/>
<rect x="1200" y="221" width="1" height="21" fill="#008000"/>
<rect x="1199" y="233" width="3" height="1" fill="#008000"/>
<rect x="1205" y="227" width="1" height="33" fill="#008000"/>
<rect x="1204.5" y="232.5" width="3" height="17" fill="#fff" stroke="#008000" stroke-width="1"/>
<rect x="1210" y="221" width="1" height="13" fill="#008000"/>
<rect x="1209" y="227" width="3" height="5" fill="#008000"/>
<rect x="1216" y="201" width="1" height="27" fill="#008000"/>
<rect x="1215.5" y="215.5" width="3" height="12" fill="#fff" stroke="#008000" stroke-width="1"/>
<rect x="1221" y="211" width="1" height="11" fill="#008000"/>
<rect x="1220.5" y="212.5" width="3" height="8" fill="#fff" stroke="#008000" stroke-width="1"/>
<rect x="1227" y="183" width="1" height="26" fill="#008000"/>
<rect x="1226.5" y="200.5" width="3" height="8" fill="#fff" stroke="#008000" stroke-width="1"/>
<rect x="1232" y="179" width="1" height="21" fill="#008000"/>
<rect x="1231.5" y="180.5" width="3" height="18" fill="#fff" stroke="#008000" stroke-width="1"/>
<rect x="1237" y="173" width="1" height="44" fill="#ff0000"/>
<rect x="1236.5" y="182.5" width="3" height="9" fill="#fff" stroke="#ff0000" stroke-width="1"/>
<rect x="1243" y="172" width="1" height="19" fill="#008000"/>
<rect x="1242.5" y="179.5" width="3" height="2" fill="#fff" stroke="#008000" stroke-width="1"/>
<rect x="1248" y="164" width="1" height="21" fill="#ff0000"/>
<rect x="1247" y="179" width="3" height="4" fill="#ff0000"/>
<rect x="1254" y="173" width="1" height="17" fill="#008000"/>
<rect x="1253" y="181" width="4" height="2" fill="#008000"/>
<rect x="1259" y="174" width="1" height="17" fill="#008000"/>
<rect x="1258.5" y="181.5" width="3" height="8" fill="#fff" stroke="#008000" stroke-width="1"/>
<rect x="1265" y="152" width="1" height="35" fill="#008000"/>
<rect x="1264.5" y="164.5" width="3" height="17" fill="#fff" stroke="#008000" stroke-width="1"/>
<rect x="1270" y="159" width="1" height="28" fill="#ff0000"/>
<rect x="1269.5" y="168.5" width="3" height="15" fill="#fff" stroke="#ff0000" stroke-width="1"/>
<rect x="1275" y="146" width="1" height="27" fill="#008000"/>
<rect x="1274.5" y="161.5" width="3" height="10" fill="#fff" stroke="#008000" stroke-width="1"/>
<rect x="1281" y="152" width="1" height="46" fill="#ff0000"/>
<rect x="1280" y="162" width="3" height="14" fill="#ff0000"/>
<rect x="1286" y="159" width="1" height="18" fill="#008000"/>
<rect x="1285" y="165" width="3" height="8" fill="#008000"/>
<rect x="1292" y="173" width="1" height="14" fill="#ff0000"/>
<rect x="1291" y="182" width="3" height="5" fill="#ff0000"/>
<rect x="1297" y="182" width="1" height="11" fill="#ff0000"/>
<rect x="1296" y="187" width="3" height="5" fill="#ff0000"/>
<rect x="1302" y="180" width="1" height="21" fill="#ff0000"/>
<rect x="1301" y="185" width="3" height="16" fill="#ff0000"/>
<rect x="1308" y="198" width="1" height="15" fill="#008000"/>
<rect x="1307" y="199" width="3" height="2" fill="#008000"/>
<rect x="1313" y="179" width="1" height="32" fill="#008000"/>
<rect x="1312.5" y="187.5" width="3" height="14" fill="#fff" stroke="#008000" stroke-width="1"/>
<rect x="1319" y="179" width="1" height="15" fill="#ff0000"/>
<rect x="1318.5" y="188.5" width="3" height="3" fill="#fff" stroke="#ff0000" stroke-width="1"/>
<rect x="1324" y="193" width="1" height="15" fill="#ff0000"/>
<rect x="1323" y="193" width="3" height="14" fill="#ff0000"/>
</g>
<g shape-rendering="crispEdges">
<rect x="13" y="819" width="1" height="20" fill="#008000"/>
<rect x="19" y="824" width="1" height="15" fill="#ff0000"/>
<rect x="24" y="801" width="1" height="38" fill="#ff0000"/>
<rect x="30" y="826" width="1" height="13" fill="#008000"/>
<rect x="35" y="819" width="1" height="20" fill="#ff0000"/>
<rect x="41" y="822" width="1" height="17" fill="#ff0000"/>
<rect x="46" y="821" width="1" height="18" fill="#008000"/>
<rect x="51" y="832" width="1" height="7" fill="#008000"/>
<rect x="57" y="827" width="1" height="12" fill="#ff0000"/>
<rect x="62" y="828" width="1" height="11" fill="#008000"/>
<rect x="68" y="832" width="1" height="7" fill="#008000"/>
<rect x="73" y="820" width="1" height="19" fill="#008000"/>
<rect x="78" y="829" width="1" height="10" fill="#008000"/>
<rect x="84" y="831" width="1" height="8" fill="#ff0000"/>
<rect x="89" y="836" width="1" height="3" fill="#008000"/>
<rect x="95" y="804" width="1" height="35" fill="#008000"/>
<rect x="100" y="831" width="1" height="8" fill="#ff0000"/>
<rect x="106" y="821" width="1" height="18" fill="#008000"/>
<rect x="111" y="816" width="1" height="23" fill="#ff0000"/>
<rect x="116" y="822" width="1" height="17" fill="#008000"/>
<rect x="122" y="825" width="1" height="14" fill="#ff0000"/>
<rect x="127" y="804" width="1" height="35" fill="#008000"/>
<rect x="133" y="833" width="1" height="6" fill="#ff0000"/>
<rect x="138" y="829" width="1" height="10" fill="#ff0000"/>
<rect x="143" y="798" width="1" height="41" fill="#008000"/>
<rect x="149" y="784" width="1" height="55" fill="#008000"/>
<rect x="154" y="749" width="1" height="90" fill="#008000"/>
<rect x="160" y="821" width="1" height="18" fill="#ff0000"/>
<rect x="165" y="811" width="1" height="28" fill="#ff0000"/>
<rect x="171" y="785" width="1" height="54" fill="#008000"/>
<rect x="176" y="778" width="1" height="61" fill="#008000"/>
<rect x="181" y="802" width="1" height="37" fill="#008000"/>
<rect x="187" y="796" width="1" height="43" fill="#ff0000"/>
<rect x="192" y="774" width="1" height="65" fill="#008000"/>
<rect x="198" y="783" width="1" height="56" fill="#008000"/>
<rect x="203" y="788" width="1" height="51" fill="#008000"/>
<rect x="208" y="799" width="1" height="40" fill="#008000"/>
<rect x="214" y="808" width="1" height="31" fill="#ff0000"/>
<rect x="219" y="800" width="1" height="39" fill="#008000"/>
<rect x="225" y="814" width="1" height="25" fill="#008000"/>
<rect x="230" y="791" width="1" height="48" fill="#008000"/>
<rect x="236" y="829" width="1" height="10" fill="#ff0000"/>
<rect x="241" y="805" width="1" height="34" fill="#008000"/>
<rect x="246" y="778" width="1" height="61" fill="#008000"/>
<rect x="252" y="808" width="1" height="31" fill="#ff0000"/>
<rect x="257" y="817" width="1" height="22" fill="#008000"/>
<rect x="263" y="810" width="1" height="29" fill="#008000"/>
<rect x="268" y="804" width="1" height="35" fill="#ff0000"/>
<rect x="273" y="825" width="1" height="14" fill="#008000"/>
<rect x="279" y="806" width="1" height="33" fill="#008000"/>
<rect x="284" y="825" width="1" height="14" fill="#ff0000"/>
<rect x="290" y="805" width="1" height="34" fill="#ff0000"/>
<rect x="295" y="783" width="1" height="56" fill="#ff0000"/>
<rect x="300" y="813" width="1" height="26" fill="#008000"/>
<rect x="306" y="825" width="1" height="14" fill="#ff0000"/>
<rect x="311" y="817" width="1" height="22" fill="#ff0000"/>
<rect x="317" y="819" width="1" height="20" fill="#008000"/>
<rect x="322" y="824" width="1" height="15" fill="#008000"/>
<rect x="328" y="827" width="1" height="12" fill="#ff0000"/>
<rect x="333" y="829" width="1" height="10" fill="#008000"/>
<rect x="338" y="803" width="1" height="36" fill="#008000"/>
<rect x="344" y="793" width="1" height="46" fill="#008000"/>
<rect x="349" y="824" width="1" height="15" fill="#ff0000"/>
<rect x="355" y="786" width="1" height="53" fill="#008000"/>
<rect x="360" y="817" width="1" height="22" fill="#ff0000"/>
<rect x="365" y="826" width="1" height="13" fill="#ff0000"/>
<rect x="371" y="814" width="1" height="25" fill="#ff0000"/>
<rect x="376" y="817" width="1" height="22" fill="#008000"/>
<rect x="382" y="833" width="1" height="6" fill="#ff0000"/>
<rect x="387" y="823" width="1" height="16" fill="#008000"/>
<rect x="393" y="781" width="1" height="58" fill="#008000"/>
<rect x="398" y="825" width="1" height="14" fill="#ff0000"/>
<rect x="403" y="819" width="1" height="20" fill="#ff0000"/>
<rect x="409" y="825" width="1" height="14" fill="#ff0000"/>
<rect x="414" y="810" width="1" height="29" fill="#ff0000"/>
<rect x="420" y="793" width="1" height="46" fill="#008000"/>
<rect x="425" y="819" width="1" height="20" fill="#008000"/>
<rect x="430" y="810" width="1" height="29" fill="#008000"/>
<rect x="436" y="818" width="1" height="21" fill="#ff0000"/>
<rect x="441" y="803" width="1" height="36" fill="#ff0000"/>
<rect x="447" y="812" width="1" height="27" fill="#008000"/>
<rect x="452" y="809" width="1" height="30" fill="#008000"/>
<rect x="458" y="829" width="1" height="10" fill="#008000"/>
<rect x="463" y="795" width="1" height="44" fill="#008000"/>
<rect x="468" y="799" width="1" height="40" fill="#ff0000"/>
<rect x="474" y="818" width="1" height="21" fill="#008000"/>
<rect x="479" y="745" width="1" height="94" fill="#008000"/>
<rect x="485" y="754" width="1" height="85" fill="#ff0000"/>
<rect x="490" y="783" width="1" height="56" fill="#ff0000"/>
<rect x="495" y="760" width="1" height="79" fill="#008000"/>
<rect x="501" y="797" width="1" height="42" fill="#ff0000"/>
<rect x="506" y="814" width="1" height="25" fill="#ff0000"/>
<rect x="512" y="790" width="1" height="49" fill="#008000"/>
<rect x="517" y="790" width="1" height="49" fill="#008000"/>
<rect x="523" y="806" width="1" height="33" fill="#008000"/>
<rect x="528" y="800" width="1" height="39" fill="#008000"/>
<rect x="533" y="807" width="1" height="32" fill="#ff0000"/>
<rect x="539" y="820" width="1" height="19" fill="#008000"/>
<rect x="544" y="782" width="1" height="57" fill="#008000"/>
<rect x="550" y="820" width="1" height="19" fill="#008000"/>
<rect x="555" y="811" width="1" height="28" fill="#008000"/>
<rect x="560" y="805" width="1" height="34" fill="#ff0000"/>
<rect x="566" y="790" width="1" height="49" fill="#008000"/>
<rect x="571" y="799" width="1" height="40" fill="#ff0000"/>
<rect x="577" y="798" width="1" height="41" fill="#008000"/>
<rect x="582" y="798" width="1" height="41" fill="#008000"/>
<rect x="588" y="816" width="1" height="23" fill="#ff0000"/>
<rect x="593" y="821" width="1" height="18" fill="#ff0000"/>
<rect x="598" y="772" width="1" height="67" fill="#ff0000"/>
<rect x="604" y="797" width="1" height="42" fill="#ff0000"/>
<rect x="609" y="812" width="1" height="27" fill="#ff0000"/>
<rect x="615" y="817" width="1" height="22" fill="#008000"/>
<rect x="620" y="806" width="1" height="33" fill="#008000"/>
<rect x="625" y="814" width="1" height="25" fill="#008000"/>
<rect x="631" y="783" width="1" height="56" fill="#008000"/>
<rect x="636" y="790" width="1" height="49" fill="#008000"/>
<rect x="642" y="822" width="1" height="17" fill="#008000"/>
<rect x="647" y="792" width="1" height="47" fill="#ff0000"/>
<rect x="653" y="794" width="1" height="45" fill="#ff0000"/>
<rect x="658" y="824" width="1" height="15" fill="#ff0000"/>
<rect x="663" y="814" width="1" height="25" fill="#008000"/>
<rect x="669" y="816" width="1" height="23" fill="#ff0000"/>
<rect x="674" y="825" width="1" height="14" fill="#ff0000"/>
<rect x="680" y="815" width="1" height="24" fill="#ff0000"/>
<rect x="685" y="818" width="1" height="21" fill="#008000"/>
<rect x="690" y="830" width="1" height="9" fill="#008000"/>
<rect x="696" y="817" width="1" height="22" fill="#008000"/>
<rect x="701" y="815" width="1" height="24" fill="#ff0000"/>
<rect x="707" y="819" width="1" height="20" fill="#ff0000"/>
<rect x="712" y="813" width="1" height="26" fill="#008000"/>
<rect x="718" y="725" width="1" height="114" fill="#008000"/>
<rect x="723" y="812" width="1" height="27" fill="#ff0000"/>
<rect x="728" y="820" width="1" height="19" fill="#ff0000"/>
<rect x="734" y="785" width="1" height="54" fill="#008000"/>
<rect x="739" y="829" width="1" height="10" fill="#008000"/>
<rect x="745" y="826" width="1" height="13" fill="#008000"/>
<rect x="750" y="811" width="1" height="28" fill="#008000"/>
<rect x="755" y="768" width="1" height="71" fill="#008000"/>
<rect x="761" y="802" width="1" height="37" fill="#008000"/>
<rect x="766" y="816" width="1" height="23" fill="#008000"/>
<rect x="772" y="791" width="1" height="48" fill="#008000"/>
<rect x="777" y="818" width="1" height="21" fill="#ff0000"/>
<rect x="783" y="817" width="1" height="22" fill="#ff0000"/>
<rect x="788" y="811" width="1" height="28" fill="#ff0000"/>
<rect x="793" y="768" width="1" height="71" fill="#008000"/>
<rect x="799" y="802" width="1" height="37" fill="#008000"/>
<rect x="804" y="784" width="1" height="55" fill="#008000"/>
<rect x="810" y="809" width="1" height="30" fill="#ff0000"/>
<rect x="815" y="806" width="1" height="33" fill="#ff0000"/>
<rect x="820" y="823" width="1" height="16" fill="#008000"/>
<rect x="826" y="831" width="1" height="8" fill="#008000"/>
<rect x="831" y="805" width="1" height="34" fill="#008000"/>
<rect x="837" y="807" width="1" height="32" fill="#ff0000"/>
<rect x="842" y="816" width="1" height="23" fill="#ff0000"/>
<rect x="848" y="770" width="1" height="69" fill="#008000"/>
<rect x="853" y="766" width="1" height="73" fill="#008000"/>
<rect x="858" y="676" width="1" height="163" fill="#ff0000"/>
<rect x="864" y="765" width="1" height="74" fill="#ff0000"/>
<rect x="869" y="793" width="1" height="46" fill="#008000"/>
<rect x="875" y="751" width="1" height="88" fill="#ff0000"/>
<rect x="880" y="797" width="1" height="42" fill="#ff0000"/>
<rect x="885" y="795" width="1" height="44" fill="#008000"/>
<rect x="891" y="800" width="1" height="39" fill="#008000"/>
<rect x="896" y="795" width="1" height="44" fill="#ff0000"/>
<rect x="902" y="774" width="1" height="65" fill="#ff0000"/>
<rect x="907" y="776" width="1" height="63" fill="#008000"/>
<rect x="913" y="816" width="1" height="23" fill="#ff0000"/>
<rect x="918" y="755" width="1" height="84" fill="#ff0000"/>
<rect x="923" y="789" width="1" height="50" fill="#ff0000"/>
<rect x="929" y="808" width="1" height="31" fill="#008000"/>
<rect x="934" y="819" width="1" height="20" fill="#ff0000"/>
<rect x="940" y="785" width="1" height="54" fill="#008000"/>
<rect x="945" y="793" width="1" height="46" fill="#ff0000"/>
<rect x="950" y="820" width="1" height="19" fill="#008000"/>
<rect x="956" y="809" width="1" height="30" fill="#008000"/>
<rect x="961" y="796" width="1" height="43" fill="#ff0000"/>
<rect x="967" y="821" width="1" height="18" fill="#008000"/>
<rect x="972" y="810" width="1" height="29" fill="#ff0000"/>
<rect x="977" y="796" width="1" height="43" fill="#008000"/>
<rect x="983" y="820" width="1" height="19" fill="#008000"/>
<rect x="988" y="813" width="1" height="26" fill="#008000"/>
<rect x="994" y="813" width="1" height="26" fill="#ff0000"/>
<rect x="999" y="818" width="1" height="21" fill="#ff0000"/>
<rect x="1005" y="832" width="1" height="7" fill="#008000"/>
<rect x="1010" y="824" width="1" height="15" fill="#008000"/>
<rect x="1015" y="832" width="1" height="7" fill="#008000"/>
<rect x="1021" y="813" width="1" height="26" fill="#008000"/>
<rect x="1026" y="800" width="1" height="39" fill="#008000"/>
<rect x="1032" y="823" width="1" height="16" fill="#008000"/>
<rect x="1037" y="825" width="1" height="14" fill="#ff0000"/>
<rect x="1042" y="823" width="1" height="16" fill="#ff0000"/>
<rect x="1048" y="820" width="1" height="19" fill="#ff0000"/>
<rect x="1053" y="815" width="1" height="24" fill="#ff0000"/>
<rect x="1059" y="822" width="1" height="17" fill="#008000"/>
<rect x="1064" y="826" width="1" height="13" fill="#ff0000"/>
<rect x="1070" y="808" width="1" height="31" fill="#ff0000"/>
<rect x="1075" y="820" width="1" height="19" fill="#008000"/>
<rect x="1080" y="835" width="1" height="4" fill="#008000"/>
<rect x="1086" y="805" width="1" height="34" fill="#008000"/>
<rect x="1091" y="771" width="1" height="68" fill="#008000"/>
<rect x="1097" y="767" width="1" height="72" fill="#008000"/>
<rect x="1102" y="806" width="1" height="33" fill="#ff0000"/>
<rect x="1107" y="779" width="1" height="60" fill="#008000"/>
<rect x="1113" y="773" width="1" height="66" fill="#ff0000"/>
<rect x="1118" y="792" width="1" height="47" fill="#ff0000"/>
<rect x="1124" y="791" width="1" height="48" fill="#008000"/>
<rect x="1129" y="589" width="1" height="250" fill="#008000"/>
<rect x="1135" y="648" width="1" height="191" fill="#008000"/>
<rect x="1140" y="761" width="1" height="78" fill="#ff0000"/>
<rect x="1145" y="745" width="1" height="94" fill="#ff0000"/>
<rect x="1151" y="787" width="1" height="52" fill="#008000"/>
<rect x="1156" y="757" width="1" height="82" fill="#ff0000"/>
<rect x="1162" y="757" width="1" height="82" fill="#ff0000"/>
<rect x="1167" y="793" width="1" height="46" fill="#008000"/>
<rect x="1172" y="793" width="1" height="46" fill="#008000"/>
<rect x="1178" y="812" width="1" height="27" fill="#ff0000"/>
<rect x="1183" y="794" width="1" height="45" fill="#ff0000"/>
<rect x="1189" y="810" width="1" height="29" fill="#008000"/>
<rect x="1194" y="818" width="1" height="21" fill="#ff0000"/>
<rect x="1200" y="833" width="1" height="6" fill="#008000"/>
<rect x="1205" y="803" width="1" height="36" fill="#008000"/>
<rect x="1210" y="817" width="1" height="22" fill="#008000"/>
<rect x="1216" y="810" width="1" height="29" fill="#008000"/>
<rect x="1221" y="818" width="1" height="21" fill="#008000"/>
<rect x="1227" y="797" width="1" height="42" fill="#008000"/>
<rect x="1232" y="776" width="1" height="63" fill="#008000"/>
<rect x="1237" y="804" width="1" height="35" fill="#ff0000"/>
<rect x="1243" y="801" width="1" height="38" fill="#008000"/>
<rect x="1248" y="818" width="1" height="21" fill="#ff0000"/>
<rect x="1254" y="816" width="1" height="23" fill="#008000"/>
<rect x="1259" y="820" width="1" height="19" fill="#008000"/>
<rect x="1265" y="762" width="1" height="77" fill="#008000"/>
<rect x="1270" y="798" width="1" height="41" fill="#ff0000"/>
<rect x="1275" y="768" width="1" height="71" fill="#008000"/>
<rect x="1281" y="783" width="1" height="56" fill="#ff0000"/>
<rect x="1286" y="817" width="1" height="22" fill="#008000"/>
<rect x="1292" y="796" width="1" height="43" fill="#ff0000"/>
<rect x="1297" y="795" width="1" height="44" fill="#ff0000"/>
<rect x="1302" y="803" width="1" height="36" fill="#ff0000"/>
<rect x="1308" y="795" width="1" height="44" fill="#008000"/>
<rect x="1313" y="815" width="1" height="24" fill="#008000"/>
<rect x="1319" y="809" width="1" height="30" fill="#ff0000"/>
<rect x="1324" y="826" width="1" height="13" fill="#ff0000"/>
</g>
<path d="M10.9 515.5 C14.1 515.4 22.7 513.7 29.9 515.0 C37.2 516.3 46.5 520.2 54.4 523.1 C62.3 526.1 70.7 530.6 77.5 532.7 C84.3 534.7 88.6 534.7 95.2 535.4 C101.8 536.1 110.2 537.5 117.0 536.7 C123.8 536.0 130.1 532.3 136.0 530.8 C141.9 529.2 146.0 528.7 152.3 527.2 C158.7 525.7 167.8 523.3 174.1 521.8 C180.4 520.3 183.6 520.4 190.4 518.2 C197.2 516.1 208.1 511.1 214.9 509.0 C221.7 506.9 225.2 507.2 231.2 505.5 C237.2 503.7 244.0 500.8 250.9 498.3 C257.8 495.9 264.7 493.8 272.6 490.7 C280.6 487.6 291.0 482.9 298.5 479.8 C306.0 476.7 311.9 474.4 317.5 472.2 C323.2 470.0 327.3 469.2 332.5 466.8 C337.7 464.3 343.4 460.9 348.8 457.5 C354.3 454.2 359.5 449.8 365.1 446.6 C370.8 443.5 376.5 442.5 382.8 438.5 C389.2 434.5 397.1 427.1 403.2 422.7 C409.3 418.3 414.1 415.5 419.5 411.8 C425.0 408.1 429.5 404.0 435.9 400.4 C442.2 396.8 451.3 393.6 457.6 390.1 C464.0 386.5 467.5 383.4 473.9 379.2 C480.4 375.0 489.4 369.3 496.3 364.9 C503.2 360.5 509.0 356.7 515.4 352.7 C521.7 348.6 527.6 345.0 534.4 340.4 C541.2 335.9 548.9 330.2 556.2 325.5 C563.4 320.7 571.6 316.4 577.9 311.9 C584.3 307.3 589.3 301.9 594.3 298.3 C599.2 294.6 603.3 292.1 607.9 290.1 C612.4 288.1 617.4 287.4 621.5 286.0 C625.5 284.7 627.8 284.0 632.3 281.9 C636.9 279.9 643.2 276.3 648.7 273.8 C654.1 271.3 660.0 268.8 665.0 267.0 C670.0 265.2 673.6 264.2 678.6 262.9 C683.6 261.6 689.9 260.3 694.9 259.4 C699.9 258.5 704.4 258.7 708.5 257.5 C712.6 256.2 714.8 253.8 719.4 252.0 C724.0 250.2 730.3 248.3 736.3 246.8 C742.3 245.3 749.0 244.4 755.4 243.3 C761.7 242.1 766.7 241.8 774.4 239.7 C782.1 237.7 792.5 233.8 801.6 231.0 C810.7 228.2 819.7 225.6 828.8 222.9 C837.9 220.1 849.5 216.5 856.0 214.7 C862.5 212.9 864.0 213.2 868.0 212.0 C872.0 210.8 875.5 209.5 880.0 207.7 C884.5 205.9 889.9 202.7 894.9 201.0 C899.9 199.3 904.1 198.3 909.8 197.3 C915.5 196.3 921.7 195.8 929.2 195.1 C936.7 194.3 946.9 193.4 954.6 192.8 C962.3 192.2 969.8 191.9 975.5 191.6 C981.2 191.2 984.9 190.7 988.9 190.7 C992.9 190.7 995.6 191.5 999.3 191.5 C1003.0 191.5 1004.8 190.8 1011.3 190.7 C1017.8 190.5 1032.1 190.3 1038.1 190.6 C1044.1 190.9 1043.6 191.8 1047.1 192.5 C1050.6 193.2 1055.0 193.8 1059.0 194.6 C1063.0 195.4 1067.8 196.3 1071.0 197.3 C1074.2 198.3 1075.4 199.6 1078.4 200.6 C1081.4 201.6 1085.1 202.8 1088.8 203.6 C1092.5 204.4 1097.2 204.9 1100.8 205.5 C1104.4 206.1 1104.5 206.4 1110.5 207.0 C1116.5 207.6 1128.4 208.6 1136.8 209.3 C1145.2 210.0 1155.0 210.4 1160.9 211.2 C1166.8 212.0 1168.4 213.3 1172.2 214.0 C1176.0 214.7 1179.8 214.8 1183.5 215.2 C1187.2 215.6 1191.2 215.9 1194.7 216.3 C1198.2 216.7 1200.1 217.5 1204.4 217.5 C1208.7 217.5 1216.2 216.6 1220.5 216.2 C1224.8 215.8 1226.9 215.6 1230.1 215.2 C1233.3 214.8 1236.6 214.2 1239.8 213.6 C1243.0 213.0 1246.0 212.1 1249.4 211.4 C1252.8 210.7 1255.4 210.8 1260.0 209.6 C1264.6 208.4 1271.5 205.7 1277.1 204.4 C1282.6 203.0 1287.9 202.3 1293.4 201.6 C1298.8 201.0 1304.4 200.7 1309.7 200.3 C1315.0 199.9 1322.4 199.4 1324.9 199.2" fill="none" stroke="#0000ff" stroke-width="1.25"/>
<path d="M303.0 571.1 C310.4 568.9 330.6 563.2 347.7 558.1 C364.8 553.0 389.0 545.9 405.4 540.8 C421.8 535.6 431.4 532.5 445.8 527.2 C460.2 521.9 477.1 515.1 492.0 509.0 C506.9 502.9 520.9 496.8 535.3 490.3 C549.7 483.8 566.6 475.9 578.6 470.1 C590.6 464.3 595.5 461.1 607.5 455.6 C619.5 450.1 636.4 442.7 650.8 436.9 C665.2 431.1 682.0 425.1 694.0 421.0 C706.0 416.9 712.6 415.4 723.0 412.5 C733.4 409.6 745.1 406.8 756.1 403.4 C767.1 399.9 778.1 395.8 789.1 391.8 C800.1 387.8 813.9 382.5 822.1 379.5 C830.4 376.5 830.3 376.5 838.6 373.7 C846.9 370.9 863.4 365.1 871.7 362.6 C880.0 360.1 882.7 360.1 888.2 358.6 C893.7 357.2 897.8 355.8 904.7 353.9 C911.6 352.0 922.6 349.2 929.5 347.1 C936.4 345.0 940.5 343.0 946.0 341.1 C951.5 339.2 957.0 337.4 962.5 335.9 C968.0 334.3 974.4 333.0 979.0 331.8 C983.6 330.6 984.1 330.4 990.0 328.6 C995.9 326.8 1005.5 323.6 1014.5 321.0 C1023.5 318.4 1035.0 315.4 1043.8 313.3 C1052.6 311.2 1059.4 310.1 1067.2 308.6 C1075.0 307.1 1082.9 306.4 1090.7 304.5 C1098.5 302.6 1106.8 299.9 1114.1 297.5 C1121.4 295.1 1128.9 291.9 1134.8 289.9 C1140.7 287.8 1143.4 286.7 1149.3 285.2 C1155.2 283.7 1163.2 282.4 1170.0 280.9 C1176.8 279.3 1183.3 277.5 1190.0 275.9 C1196.7 274.3 1200.9 274.0 1210.0 271.3 C1219.1 268.6 1234.1 262.9 1244.4 259.8 C1254.7 256.7 1262.5 254.9 1271.6 252.8 C1280.7 250.7 1289.9 248.9 1298.8 247.3 C1307.7 245.7 1320.6 244.0 1325.0 243.3" fill="none" stroke="#ff00ff" stroke-width="1.2"/>
<path d="M153.7 570.7 C155.3 567.3 160.2 557.8 163.2 550.3 C166.1 542.8 168.9 534.5 171.4 525.9 C173.9 517.3 176.2 507.8 178.2 498.7 C180.2 489.6 182.0 480.6 183.6 471.5 C185.2 462.4 186.8 452.3 187.7 444.3 C188.6 436.3 188.9 426.8 189.1 423.3" fill="none" stroke="#1f8a1f" stroke-width="1.3"/>
<path d="M1093.0 150.2 C1093.5 153.5 1094.8 164.2 1096.0 170.0 C1097.2 175.8 1099.0 181.1 1100.5 185.0 C1102.0 188.9 1103.2 191.2 1105.0 193.2 C1106.8 195.1 1109.0 197.1 1111.0 196.7 C1113.0 196.3 1115.2 193.7 1117.0 191.0 C1118.8 188.3 1120.2 184.5 1121.5 180.5 C1122.8 176.5 1123.8 172.1 1124.5 167.0 C1125.2 161.9 1125.8 153.0 1126.0 150.2" fill="none" stroke="#1f8a1f" stroke-width="1.3"/>
<path d="M1131.0 150.0 C1132.0 155.8 1134.7 174.2 1137.0 185.0 C1139.3 195.8 1142.8 207.0 1145.0 214.7 C1147.2 222.4 1147.7 224.7 1150.4 231.0 C1153.1 237.3 1157.7 246.9 1161.3 252.8 C1164.9 258.7 1168.6 262.5 1172.2 266.4 C1175.8 270.2 1179.5 273.3 1183.1 275.9 C1186.7 278.5 1190.1 280.4 1194.0 281.9 C1197.9 283.3 1201.5 284.7 1206.3 284.6 C1211.1 284.5 1217.1 283.9 1222.6 281.3 C1228.1 278.7 1234.3 274.3 1239.5 269.1 C1244.7 263.9 1249.7 257.2 1254.0 250.0 C1258.3 242.8 1262.2 233.3 1265.2 225.6 C1268.2 217.9 1270.2 212.0 1272.0 203.8 C1273.8 195.6 1275.2 185.1 1276.3 176.6 C1277.4 168.1 1278.4 156.9 1278.8 153.0" fill="none" stroke="#1f8a1f" stroke-width="1.3"/>
<path d="M1275.7 148 H1332.3" stroke="#1f8a1f" stroke-width="1.8"/>
<path d="M1286.2 158.3 C1286.6 161.7 1287.4 171.7 1288.6 178.8 C1289.8 185.9 1291.9 195.1 1293.5 200.8 C1295.1 206.5 1296.8 209.8 1298.4 213.0 C1300.0 216.2 1301.7 218.2 1303.3 219.7 C1304.9 221.2 1306.3 221.9 1308.1 222.2 C1309.9 222.4 1311.5 222.5 1314.0 221.2 C1316.5 219.9 1320.5 217.0 1322.8 214.2 C1325.1 211.4 1326.1 208.8 1327.7 204.5 C1329.3 200.2 1331.3 194.3 1332.6 188.6 C1333.9 182.9 1334.9 175.4 1335.6 170.3 C1336.2 165.2 1336.3 160.3 1336.5 158.3" fill="none" stroke="#1f8a1f" stroke-width="1.3"/>
<path d="M1136.7 193.3 L1135.6 167.2 L1140.6 166.5 L1130.5 154.3 L1124.1 168.8 L1129.1 168.1 L1135.1 193.5 Z" fill="#008000"/>
<path d="M1326.6 232.4 L1317.8 220.8 L1322.6 217.2 L1307.4 211.2 L1309.1 227.5 L1313.9 223.9 L1322.6 235.4 Z" fill="#008000"/>
<path d="M1155.6 696.1 L1223.0 792.3 L1218.3 795.6 L1232.5 801.5 L1231.7 786.1 L1227.1 789.4 L1159.6 693.3 Z" fill="#008000"/>
<g stroke="#000080" fill="#000080"><path d="M854 107.5 H915 M854 276.5 H915 M885.5 113.5 V177 M885.5 200 V270.5" stroke-width="1" shape-rendering="crispEdges"/><path d="M886.0 107.5 L881.9 114.3 L890.1 114.3 Z" stroke="none"/><path d="M886.0 276.5 L881.9 269.7 L890.1 269.7 Z" stroke="none"/></g>
<path d="M915 276.5 H970" stroke="#000080" stroke-width="1" shape-rendering="crispEdges"/>
<g stroke="#000080" fill="#000080"><path d="M1113 130.5 H1158 M1113 285.5 H1158 M1135.5 136.5 V193 M1135.5 216 V279.5" stroke-width="1" shape-rendering="crispEdges"/><path d="M1136.0 130.5 L1131.9 137.3 L1140.1 137.3 Z" stroke="none"/><path d="M1136.0 285.5 L1131.9 278.7 L1140.1 278.7 Z" stroke="none"/></g>
<g stroke="#000080" fill="#000080"><path d="M1333 147.5 H1387 M1333 221.5 H1387 M1359.5 153.5 V170 M1359.5 193 V215.5" stroke-width="1" shape-rendering="crispEdges"/><path d="M1360.0 147.5 L1355.9 154.3 L1364.1 154.3 Z" stroke="none"/><path d="M1360.0 221.5 L1355.9 214.7 L1364.1 214.7 Z" stroke="none"/></g>
<g stroke="#000080" fill="#000080"><path d="M855.5 247 V306 M1134.5 216 V306 M858 305.5 H1132" stroke-width="1" shape-rendering="crispEdges"/><path d="M855.3 305.5 L862.3 301.6 L862.3 309.4 Z" stroke="none"/><path d="M1135 305.5 L1128.2 301.6 L1128.2 309.4 Z" stroke="none"/></g>
<rect x="860.5" y="177.5" width="49.5" height="21.0" rx="2.5" fill="#fff" fill-opacity="0.94" stroke="#d2d2d2" stroke-width="1"/>
<text x="869.3" y="193.9" font-size="11.3" fill="#111" textLength="33.0" lengthAdjust="spacing" stroke="#111" stroke-width="0.28">-20.8%</text>
<rect x="1110.5" y="193.5" width="50.0" height="21.0" rx="2.5" fill="#fff" fill-opacity="0.94" stroke="#d2d2d2" stroke-width="1"/>
<text x="1120.0" y="209.8" font-size="11.3" fill="#111" textLength="32.7" lengthAdjust="spacing" stroke="#111" stroke-width="0.28">-19.2%</text>
<rect x="1337.5" y="170.5" width="44.0" height="21.0" rx="2.5" fill="#fff" fill-opacity="0.94" stroke="#d2d2d2" stroke-width="1"/>
<text x="1345.9" y="186.8" font-size="11.3" fill="#111" textLength="28.0" lengthAdjust="spacing" stroke="#111" stroke-width="0.28">-9.7%</text>
<rect x="963.5" y="293.5" width="62.0" height="21.0" rx="2.5" fill="#fff" fill-opacity="0.94" stroke="#d2d2d2" stroke-width="1"/>
<text x="972.2" y="308.6" font-size="11.3" fill="#111" textLength="46.3" lengthAdjust="spacing" stroke="#111" stroke-width="0.28">10 weeks</text>
<path d="M849.2 136.4 C849.5 139.0 850.0 146.6 850.8 152.0 C851.6 157.4 852.8 164.3 853.8 169.0 C854.8 173.7 855.2 175.2 856.7 179.9 C858.2 184.6 859.9 191.6 862.5 197.0 C865.1 202.4 868.8 207.3 872.3 212.5 C875.8 217.7 879.1 223.2 883.2 228.3 C887.3 233.4 892.3 239.0 896.8 243.3 C901.3 247.6 905.4 250.7 910.4 254.1 C915.4 257.5 921.2 261.0 926.7 263.7 C932.2 266.4 937.7 268.6 943.1 270.5 C948.5 272.4 954.6 274.0 959.4 275.1 C964.2 276.2 967.4 276.9 972.0 277.2 C976.6 277.5 982.0 277.5 987.2 276.8 C992.5 276.1 998.1 274.9 1003.5 273.2 C1008.9 271.5 1014.3 269.0 1019.8 266.4 C1025.2 263.8 1030.8 261.0 1036.2 257.4 C1041.7 253.8 1047.1 249.4 1052.5 244.6 C1057.9 239.8 1064.3 233.7 1068.8 228.3 C1073.3 222.9 1076.5 217.9 1079.7 212.0 C1082.9 206.1 1085.6 198.8 1087.9 192.9 C1090.2 187.0 1091.7 182.9 1093.3 176.6 C1094.9 170.2 1096.3 161.6 1097.4 154.8 C1098.5 148.0 1099.6 139.0 1100.1 135.8" fill="none" stroke="#1f8a1f" stroke-width="1.3"/>
<text x="931.6" y="130.2" font-size="11.3" fill="#111" textLength="128.5" lengthAdjust="spacing" stroke="#111" stroke-width="0.28">Chiếc cốc tay cầm (nền 3)</text>
<text x="1210.4" y="111.1" font-size="11.3" fill="#111" textLength="168.0" lengthAdjust="spacing" stroke="#111" stroke-width="0.28">Theo dõi Chiếc Cốc Tay Cầm mới</text>
<text x="1210.4" y="128.0" font-size="11.3" fill="#111" textLength="86.5" lengthAdjust="spacing" stroke="#111" stroke-width="0.28">hoặc VCP (nền 1)</text>
<text x="1346.4" y="162.3" font-size="11.3" fill="#111" textLength="65.3" lengthAdjust="spacing" stroke="#111" stroke-width="0.28">pivot=55,900</text>
<text x="1331.5" y="253.1" font-size="11.3" fill="#111" textLength="36.7" lengthAdjust="spacing" stroke="#111" stroke-width="0.28">Pin Bar</text>
<text x="1078.7" y="224.6" font-size="11.3" fill="#111" textLength="38.0" lengthAdjust="spacing" stroke="#111" stroke-width="0.28">Gap UP</text>
<text x="1086.2" y="238.3" font-size="11.3" fill="#111" textLength="78.8" lengthAdjust="spacing" stroke="#111" stroke-width="0.28">failed breakout</text>
<text x="1175.6" y="331.7" font-size="11.3" fill="#111" textLength="187.1" lengthAdjust="spacing" stroke="#111" stroke-width="0.28">Thủng đáy nền số 3 và bắt đầu reset</text>
<text x="1175.6" y="348.4" font-size="11.3" fill="#111" textLength="87.0" lengthAdjust="spacing" stroke="#111" stroke-width="0.28">quay lại Nền số 1</text>
<text x="1210.5" y="732.4" font-size="11.3" fill="#111" textLength="152.0" lengthAdjust="spacing" stroke="#111" stroke-width="0.28">Thanh khoản giảm khi kéo về</text>
<text x="1210.5" y="749.0" font-size="11.3" fill="#111" textLength="61.9" lengthAdjust="spacing" stroke="#111" stroke-width="0.28">MA200 ngày</text>
<text x="1493.2" y="456.2" font-size="11.3" fill="#ff00ff" textLength="166.4" lengthAdjust="spacing" stroke="#ff00ff" stroke-width="0.28">Liên hệ Team NĐT CANSLIM qua</text>
<text x="1493.2" y="473.0" font-size="11.3" fill="#ff00ff" textLength="89.8" lengthAdjust="spacing" stroke="#ff00ff" stroke-width="0.28">zalo 0977.697.420</text>
<text x="1493.2" y="490.4" font-size="11.3" fill="#ff00ff" textLength="84.4" lengthAdjust="spacing" stroke="#ff00ff" stroke-width="0.28">www.elibook.vn</text>
<text transform="translate(1422 423.5) scale(0.92 1.02)" font-size="77" font-weight="bold" fill="#ef4136">E</text>
<text transform="translate(1471.2 423.5) scale(0.855 1.02)" font-size="77" font-weight="bold" fill="#ef4136">l</text>
<text transform="translate(1488.5 423.5) scale(0.873 1.02)" font-size="77" font-weight="bold" fill="#ef4136">i</text>
<text transform="translate(1507.7 423.5) scale(0.917 1.02)" font-size="77" font-weight="bold" fill="#1b4f9c">B</text>
<clipPath id="cpO"><rect x="1557" y="377" width="38" height="12.5"/></clipPath><g clip-path="url(#cpO)">
<text transform="translate(1556.7 423.5) scale(1.057 1.035)" font-size="77" font-weight="bold" fill="#c3208f">o</text>
</g>
<text transform="translate(1604.6 423.5) scale(1.057 1.035)" font-size="77" font-weight="bold" fill="#c3208f">o</text>
<text transform="translate(1653.4 423.5) scale(1.0 1.028)" font-size="77" font-weight="bold" fill="#1b4f9c">k</text>
<rect x="1491.5" y="362" width="13" height="13" fill="#fff"/><circle cx="1497.7" cy="368.1" r="5.2" fill="#ef4136"/>
<path d="M1596.2 386.9 L1595.4 386.2 L1594.6 385.4 L1593.7 384.7 L1592.8 384.1 L1591.9 383.5 L1591.0 382.9 L1590.0 382.4 L1589.0 382.0 L1587.9 381.6 L1586.9 381.2 L1585.8 380.9 L1584.8 380.7 L1583.7 380.5 L1582.6 380.4 L1581.5 380.3 L1580.4 380.3 L1579.3 380.3 L1578.2 380.4 L1577.1 380.6 L1576.1 380.8 L1575.0 381.0 L1573.9 381.3 L1572.9 381.7 L1571.9 382.1 L1570.9 382.6 L1570.0 383.1 L1569.0 383.7 L1568.1 384.3 L1567.2 385.0 L1566.4 385.7 L1565.6 386.4 L1564.9 387.2 L1564.2 388.0 L1563.5 388.9 L1562.9 389.8 L1562.3 390.8 L1561.8 391.7 L1561.3 392.7 L1560.9 393.7 L1560.5 394.7 L1560.2 395.8 L1560.0 396.9 L1559.8 397.9 L1559.6 399.0 L1559.5 400.1 L1559.5 401.2 L1559.5 402.3 L1559.6 403.4 L1559.8 404.5 L1560.0 405.5 L1560.2 406.6 L1560.5 407.7 L1560.9 408.7 L1561.1 408.6 L1560.9 407.5 L1560.7 406.5 L1560.6 405.4 L1560.6 404.3 L1560.6 403.3 L1560.7 402.2 L1560.8 401.2 L1561.1 400.2 L1561.4 399.2 L1561.8 398.3 L1562.2 397.3 L1562.7 396.5 L1563.2 395.6 L1563.8 394.8 L1564.4 394.1 L1565.0 393.4 L1565.7 392.7 L1566.4 392.1 L1567.1 391.5 L1567.8 391.0 L1568.6 390.6 L1569.4 390.2 L1570.1 389.8 L1570.9 389.5 L1571.7 389.3 L1572.5 389.1 L1573.3 388.9 L1574.0 388.7 L1574.7 388.4 L1575.4 388.3 L1576.2 388.2 L1576.9 388.1 L1577.6 388.0 L1578.3 388.0 L1579.0 388.0 L1579.7 388.1 L1580.4 388.2 L1581.1 388.2 L1581.8 388.3 L1582.4 388.4 L1583.1 388.5 L1583.8 388.6 L1584.4 388.8 L1585.1 389.1 L1585.7 389.3 L1586.3 389.6 L1586.9 389.9 L1587.5 390.3 L1588.0 390.7 L1588.6 391.1 L1589.1 391.5 L1589.6 392.0 L1590.1 392.5 Z" fill="#c3208f"/>
<circle cx="1593.1" cy="389.7" r="4.15" fill="#c3208f"/>
<path d="M1589.1 391.7 L1588.3 391.2 L1587.6 390.8 L1586.8 390.4 L1586.0 390.1 L1585.2 389.8 L1584.3 389.6 L1583.5 389.4 L1582.6 389.2 L1581.7 389.1 L1580.8 389.0 L1579.9 388.9 L1579.0 388.8 L1578.0 388.8 L1577.1 388.9 L1576.2 389.0 L1575.2 389.2 L1574.3 389.4 L1573.3 389.7 L1572.4 390.0 L1571.5 390.4 L1570.6 390.8 L1569.7 391.3 L1568.8 391.8 L1568.0 392.4 L1567.2 393.0 L1566.4 393.7 L1565.7 394.5 L1565.0 395.3 L1564.4 396.1 L1563.7 396.9 L1563.2 397.8 L1562.6 398.8 L1562.2 399.8 L1561.7 400.8 L1561.4 401.8 L1561.0 402.8 L1560.8 403.9 L1560.6 405.0 L1560.4 406.1 L1560.5 407.2 L1560.6 408.3 L1560.8 409.4 L1561.1 410.5 L1561.4 411.5 L1561.8 412.6 L1562.2 413.6 L1562.7 414.6 L1563.2 415.5 L1563.8 416.5 L1564.4 417.3 L1565.1 418.2 L1565.8 419.0 L1566.5 419.8 L1567.3 420.5 L1568.1 421.2 L1569.0 421.8 L1569.9 422.3 L1570.8 422.8 L1571.8 423.3 L1572.7 423.7 L1573.7 424.0 L1574.7 424.3 L1575.7 424.5 L1576.7 424.7 L1577.7 424.8 L1578.7 424.9 L1579.7 424.9 L1580.7 424.9 L1581.7 424.8 L1582.7 424.9 L1583.7 424.9 L1584.7 424.9 L1585.7 424.8 L1586.7 424.7 L1587.7 424.5 L1588.7 424.3 L1589.7 424.0 L1590.7 423.7 L1591.6 423.3 L1592.6 422.8 L1593.5 422.3 L1594.4 421.8 L1595.3 421.2 L1596.1 420.5 L1596.9 419.8 L1597.7 419.1 L1598.5 418.3 L1599.2 417.4 L1599.8 416.6 L1600.4 415.7 L1601.0 414.7 L1601.5 413.7 L1602.0 412.7 L1602.4 411.7 L1602.8 410.6 L1603.1 409.5 L1603.4 408.4 L1603.6 407.2 L1603.7 406.1 L1603.6 404.9 L1603.5 403.8 L1603.4 402.7 L1603.1 401.5 L1602.8 400.4 L1602.5 399.3 L1602.1 398.3 L1601.6 397.2 L1601.1 396.2 L1594.7 399.5 L1595.0 400.2 L1595.3 400.9 L1595.5 401.6 L1595.7 402.3 L1595.9 403.1 L1596.0 403.8 L1596.1 404.6 L1596.1 405.3 L1596.1 406.1 L1596.1 406.9 L1596.1 407.6 L1596.0 408.4 L1595.9 409.1 L1595.7 409.9 L1595.5 410.6 L1595.3 411.3 L1595.0 412.0 L1594.7 412.7 L1594.4 413.4 L1594.0 414.1 L1593.6 414.8 L1593.2 415.4 L1592.7 416.0 L1592.2 416.6 L1591.6 417.1 L1591.0 417.6 L1590.4 418.1 L1589.8 418.5 L1589.1 418.9 L1588.4 419.3 L1587.7 419.7 L1587.0 420.0 L1586.3 420.2 L1585.5 420.5 L1584.8 420.6 L1584.0 420.8 L1583.3 420.9 L1582.5 421.0 L1581.7 421.0 L1580.9 421.0 L1580.1 420.9 L1579.4 420.9 L1578.6 420.7 L1577.8 420.6 L1577.1 420.3 L1576.3 420.1 L1575.6 419.8 L1574.9 419.5 L1574.2 419.1 L1573.5 418.7 L1572.8 418.3 L1572.2 417.8 L1571.6 417.3 L1571.0 416.8 L1570.5 416.2 L1570.0 415.6 L1569.5 415.0 L1569.0 414.3 L1568.6 413.7 L1568.2 413.0 L1567.9 412.3 L1567.6 411.5 L1567.3 410.8 L1567.1 410.0 L1566.9 409.3 L1566.7 408.5 L1566.6 407.7 L1566.5 406.9 L1566.5 406.1 L1566.5 405.3 L1566.5 404.5 L1566.6 403.7 L1566.8 402.9 L1566.9 402.1 L1567.1 401.4 L1567.4 400.6 L1567.7 399.9 L1568.0 399.1 L1568.4 398.4 L1568.8 397.7 L1569.2 397.0 L1569.7 396.4 L1570.2 395.7 L1570.7 395.1 L1571.4 394.6 L1572.0 394.1 L1572.7 393.7 L1573.3 393.2 L1574.0 392.8 L1574.8 392.5 L1575.5 392.2 L1576.3 391.9 L1577.0 391.7 L1577.8 391.5 L1578.6 391.4 L1579.4 391.3 L1580.1 391.2 L1580.9 391.2 L1581.7 391.2 L1582.5 391.1 L1583.3 391.1 L1584.1 391.1 L1584.9 391.1 L1585.7 391.2 L1586.5 391.3 L1587.3 391.5 L1588.1 391.7 L1588.9 391.9 Z" fill="#1b4f9c"/>
<circle cx="1597.9" cy="397.8" r="3.6" fill="#1b4f9c"/>
<circle cx="1576.6" cy="409" r="1.2" fill="#ef4136"/><path d="M1569.8 414 Q1576.3 409.3 1583.6 413.6" fill="none" stroke="#ef4136" stroke-width="1.3"/>
<path d="M1585.3 419.8 Q1578.5 412.8 1574.6 416 Q1572.6 420.6 1580 423.6 Q1588 425.6 1596 421" fill="none" stroke="#1b4f9c" stroke-width="1.3"/>
<text x="16.0" y="588.0" font-size="11.3" fill="#222" textLength="39.8" lengthAdjust="spacing" stroke="#222" stroke-width="0.28">Volume</text>
<text x="1791.5" y="587.3" font-size="11.3" fill="#222" textLength="51.0" lengthAdjust="spacing" stroke="#222" stroke-width="0.28">Thousand</text>
<rect x="1783" y="806.5" width="3" height="1" fill="#333" shape-rendering="crispEdges"/>
<text x="1791.5" y="810.5" font-size="10.6" fill="#111" textLength="17.4" lengthAdjust="spacing" stroke="#111" stroke-width="0.28">400</text>
<rect x="1783" y="788.5" width="3" height="1" fill="#333" shape-rendering="crispEdges"/>
<text x="1791.5" y="792.5" font-size="10.6" fill="#111" textLength="17.4" lengthAdjust="spacing" stroke="#111" stroke-width="0.28">600</text>
<rect x="1783" y="770.5" width="3" height="1" fill="#333" shape-rendering="crispEdges"/>
<text x="1791.5" y="774.5" font-size="10.6" fill="#111" textLength="17.4" lengthAdjust="spacing" stroke="#111" stroke-width="0.28">800</text>
<rect x="1783" y="752.5" width="7" height="1" fill="#333" shape-rendering="crispEdges"/>
<text x="1791.5" y="756.5" font-size="10.6" fill="#111" textLength="23.1" lengthAdjust="spacing" stroke="#111" stroke-width="0.28">1000</text>
<rect x="1783" y="734.5" width="3" height="1" fill="#333" shape-rendering="crispEdges"/>
<text x="1791.5" y="738.4" font-size="10.6" fill="#111" textLength="23.1" lengthAdjust="spacing" stroke="#111" stroke-width="0.28">1200</text>
<rect x="1783" y="715.5" width="3" height="1" fill="#333" shape-rendering="crispEdges"/>
<text x="1791.5" y="720.4" font-size="10.6" fill="#111" textLength="23.1" lengthAdjust="spacing" stroke="#111" stroke-width="0.28">1400</text>
<rect x="1783" y="697.5" width="3" height="1" fill="#333" shape-rendering="crispEdges"/>
<text x="1791.5" y="702.4" font-size="10.6" fill="#111" textLength="23.1" lengthAdjust="spacing" stroke="#111" stroke-width="0.28">1600</text>
<rect x="1783" y="679.5" width="3" height="1" fill="#333" shape-rendering="crispEdges"/>
<text x="1791.5" y="684.3" font-size="10.6" fill="#111" textLength="23.1" lengthAdjust="spacing" stroke="#111" stroke-width="0.28">1800</text>
<rect x="1783" y="661.5" width="7" height="1" fill="#333" shape-rendering="crispEdges"/>
<text x="1791.5" y="666.3" font-size="10.6" fill="#111" textLength="23.1" lengthAdjust="spacing" stroke="#111" stroke-width="0.28">2000</text>
<rect x="1783" y="643.5" width="3" height="1" fill="#333" shape-rendering="crispEdges"/>
<text x="1791.5" y="648.3" font-size="10.6" fill="#111" textLength="23.1" lengthAdjust="spacing" stroke="#111" stroke-width="0.28">2200</text>
<rect x="1783" y="625.5" width="3" height="1" fill="#333" shape-rendering="crispEdges"/>
<text x="1791.5" y="630.2" font-size="10.6" fill="#111" textLength="23.1" lengthAdjust="spacing" stroke="#111" stroke-width="0.28">2400</text>
<rect x="1783" y="607.5" width="3" height="1" fill="#333" shape-rendering="crispEdges"/>
<text x="1791.5" y="612.2" font-size="10.6" fill="#111" textLength="23.1" lengthAdjust="spacing" stroke="#111" stroke-width="0.28">2600</text>
<rect x="1783" y="589.5" width="3" height="1" fill="#333" shape-rendering="crispEdges"/>
<text x="1791.5" y="594.2" font-size="10.6" fill="#111" textLength="23.1" lengthAdjust="spacing" stroke="#111" stroke-width="0.28">2800</text>
<clipPath id="cpD"><rect x="11" y="840" width="1771" height="39"/></clipPath><g clip-path="url(#cpD)">
<rect x="22" y="840" width="1" height="20" fill="#c3c3c3" shape-rendering="crispEdges"/>
<text x="25.4" y="854.0" font-size="10.6" fill="#111" textLength="11.8" lengthAdjust="spacing" stroke="#111" stroke-width="0.28">22</text>
<rect x="49" y="840" width="1" height="20" fill="#c3c3c3" shape-rendering="crispEdges"/>
<text x="52.3" y="854.0" font-size="10.6" fill="#111" textLength="11.8" lengthAdjust="spacing" stroke="#111" stroke-width="0.28">29</text>
<rect x="76" y="840" width="1" height="20" fill="#c3c3c3" shape-rendering="crispEdges"/>
<text x="79.1" y="854.0" font-size="10.6" fill="#111" textLength="11.8" lengthAdjust="spacing" stroke="#111" stroke-width="0.28">05</text>
<rect x="103" y="840" width="1" height="20" fill="#c3c3c3" shape-rendering="crispEdges"/>
<text x="106.0" y="854.0" font-size="10.6" fill="#111" textLength="11.8" lengthAdjust="spacing" stroke="#111" stroke-width="0.28">12</text>
<rect x="130" y="840" width="1" height="20" fill="#c3c3c3" shape-rendering="crispEdges"/>
<text x="132.8" y="854.0" font-size="10.6" fill="#111" textLength="11.8" lengthAdjust="spacing" stroke="#111" stroke-width="0.28">19</text>
<rect x="152" y="840" width="1" height="20" fill="#c3c3c3" shape-rendering="crispEdges"/>
<text x="155.3" y="854.0" font-size="10.6" fill="#111" textLength="11.8" lengthAdjust="spacing" stroke="#111" stroke-width="0.28">26</text>
<rect x="173" y="840" width="1" height="20" fill="#c3c3c3" shape-rendering="crispEdges"/>
<text x="175.8" y="854.0" font-size="10.6" fill="#111" textLength="11.8" lengthAdjust="spacing" stroke="#111" stroke-width="0.28">04</text>
<rect x="195" y="840" width="1" height="20" fill="#c3c3c3" shape-rendering="crispEdges"/>
<text x="198.0" y="854.0" font-size="10.6" fill="#111" textLength="11.8" lengthAdjust="spacing" stroke="#111" stroke-width="0.28">10</text>
<rect x="222" y="840" width="1" height="20" fill="#c3c3c3" shape-rendering="crispEdges"/>
<text x="225.2" y="854.0" font-size="10.6" fill="#111" textLength="11.8" lengthAdjust="spacing" stroke="#111" stroke-width="0.28">17</text>
<rect x="249" y="840" width="1" height="20" fill="#c3c3c3" shape-rendering="crispEdges"/>
<text x="252.0" y="854.0" font-size="10.6" fill="#111" textLength="11.8" lengthAdjust="spacing" stroke="#111" stroke-width="0.28">24</text>
<rect x="276" y="840" width="1" height="20" fill="#c3c3c3" shape-rendering="crispEdges"/>
<text x="279.2" y="854.0" font-size="10.6" fill="#111" textLength="11.8" lengthAdjust="spacing" stroke="#111" stroke-width="0.28">31</text>
<rect x="303" y="840" width="1" height="20" fill="#c3c3c3" shape-rendering="crispEdges"/>
<text x="306.1" y="854.0" font-size="10.6" fill="#111" textLength="11.8" lengthAdjust="spacing" stroke="#111" stroke-width="0.28">07</text>
<rect x="330" y="840" width="1" height="20" fill="#c3c3c3" shape-rendering="crispEdges"/>
<text x="333.2" y="854.0" font-size="10.6" fill="#111" textLength="11.8" lengthAdjust="spacing" stroke="#111" stroke-width="0.28">14</text>
<rect x="357" y="840" width="1" height="20" fill="#c3c3c3" shape-rendering="crispEdges"/>
<text x="359.8" y="854.0" font-size="10.6" fill="#111" textLength="11.8" lengthAdjust="spacing" stroke="#111" stroke-width="0.28">21</text>
<rect x="384" y="840" width="1" height="20" fill="#c3c3c3" shape-rendering="crispEdges"/>
<text x="387.0" y="854.0" font-size="10.6" fill="#111" textLength="11.8" lengthAdjust="spacing" stroke="#111" stroke-width="0.28">28</text>
<rect x="411" y="840" width="1" height="20" fill="#c3c3c3" shape-rendering="crispEdges"/>
<text x="414.5" y="854.0" font-size="10.6" fill="#111" textLength="11.8" lengthAdjust="spacing" stroke="#111" stroke-width="0.28">05</text>
<rect x="438" y="840" width="1" height="20" fill="#c3c3c3" shape-rendering="crispEdges"/>
<text x="441.3" y="854.0" font-size="10.6" fill="#111" textLength="11.8" lengthAdjust="spacing" stroke="#111" stroke-width="0.28">12</text>
<rect x="465" y="840" width="1" height="20" fill="#c3c3c3" shape-rendering="crispEdges"/>
<text x="468.5" y="854.0" font-size="10.6" fill="#111" textLength="11.8" lengthAdjust="spacing" stroke="#111" stroke-width="0.28">19</text>
<rect x="493" y="840" width="1" height="20" fill="#c3c3c3" shape-rendering="crispEdges"/>
<text x="495.7" y="854.0" font-size="10.6" fill="#111" textLength="11.8" lengthAdjust="spacing" stroke="#111" stroke-width="0.28">26</text>
<rect x="520" y="840" width="1" height="20" fill="#c3c3c3" shape-rendering="crispEdges"/>
<text x="522.6" y="854.0" font-size="10.6" fill="#111" textLength="11.8" lengthAdjust="spacing" stroke="#111" stroke-width="0.28">02</text>
<rect x="547" y="840" width="1" height="20" fill="#c3c3c3" shape-rendering="crispEdges"/>
<text x="549.8" y="854.0" font-size="10.6" fill="#111" textLength="11.8" lengthAdjust="spacing" stroke="#111" stroke-width="0.28">09</text>
<rect x="574" y="840" width="1" height="20" fill="#c3c3c3" shape-rendering="crispEdges"/>
<text x="576.6" y="854.0" font-size="10.6" fill="#111" textLength="11.8" lengthAdjust="spacing" stroke="#111" stroke-width="0.28">16</text>
<rect x="600" y="840" width="1" height="20" fill="#c3c3c3" shape-rendering="crispEdges"/>
<text x="603.5" y="854.0" font-size="10.6" fill="#111" textLength="11.8" lengthAdjust="spacing" stroke="#111" stroke-width="0.28">23</text>
<rect x="628" y="840" width="1" height="20" fill="#c3c3c3" shape-rendering="crispEdges"/>
<text x="631.0" y="854.0" font-size="10.6" fill="#111" textLength="11.8" lengthAdjust="spacing" stroke="#111" stroke-width="0.28">30</text>
<rect x="645" y="840" width="1" height="20" fill="#c3c3c3" shape-rendering="crispEdges"/>
<text x="647.8" y="854.0" font-size="10.6" fill="#111" textLength="11.8" lengthAdjust="spacing" stroke="#111" stroke-width="0.28">06</text>
<rect x="672" y="840" width="1" height="20" fill="#c3c3c3" shape-rendering="crispEdges"/>
<text x="674.6" y="854.0" font-size="10.6" fill="#111" textLength="11.8" lengthAdjust="spacing" stroke="#111" stroke-width="0.28">13</text>
<rect x="699" y="840" width="1" height="20" fill="#c3c3c3" shape-rendering="crispEdges"/>
<text x="702.2" y="854.0" font-size="10.6" fill="#111" textLength="11.8" lengthAdjust="spacing" stroke="#111" stroke-width="0.28">20</text>
<rect x="726" y="840" width="1" height="20" fill="#c3c3c3" shape-rendering="crispEdges"/>
<text x="729.0" y="854.0" font-size="10.6" fill="#111" textLength="11.8" lengthAdjust="spacing" stroke="#111" stroke-width="0.28">27</text>
<rect x="753" y="840" width="1" height="20" fill="#c3c3c3" shape-rendering="crispEdges"/>
<text x="755.9" y="854.0" font-size="10.6" fill="#111" textLength="11.8" lengthAdjust="spacing" stroke="#111" stroke-width="0.28">04</text>
<rect x="780" y="840" width="1" height="20" fill="#c3c3c3" shape-rendering="crispEdges"/>
<text x="783.1" y="854.0" font-size="10.6" fill="#111" textLength="11.8" lengthAdjust="spacing" stroke="#111" stroke-width="0.28">11</text>
<rect x="807" y="840" width="1" height="20" fill="#c3c3c3" shape-rendering="crispEdges"/>
<text x="809.9" y="854.0" font-size="10.6" fill="#111" textLength="11.8" lengthAdjust="spacing" stroke="#111" stroke-width="0.28">18</text>
<rect x="834" y="840" width="1" height="20" fill="#c3c3c3" shape-rendering="crispEdges"/>
<text x="836.8" y="854.0" font-size="10.6" fill="#111" textLength="11.8" lengthAdjust="spacing" stroke="#111" stroke-width="0.28">25</text>
<rect x="861" y="840" width="1" height="20" fill="#c3c3c3" shape-rendering="crispEdges"/>
<text x="864.3" y="854.0" font-size="10.6" fill="#111" textLength="11.8" lengthAdjust="spacing" stroke="#111" stroke-width="0.28">01</text>
<rect x="888" y="840" width="1" height="20" fill="#c3c3c3" shape-rendering="crispEdges"/>
<text x="891.1" y="854.0" font-size="10.6" fill="#111" textLength="11.8" lengthAdjust="spacing" stroke="#111" stroke-width="0.28">08</text>
<rect x="915" y="840" width="1" height="20" fill="#c3c3c3" shape-rendering="crispEdges"/>
<text x="918.0" y="854.0" font-size="10.6" fill="#111" textLength="11.8" lengthAdjust="spacing" stroke="#111" stroke-width="0.28">15</text>
<rect x="942" y="840" width="1" height="20" fill="#c3c3c3" shape-rendering="crispEdges"/>
<text x="944.9" y="854.0" font-size="10.6" fill="#111" textLength="11.8" lengthAdjust="spacing" stroke="#111" stroke-width="0.28">22</text>
<rect x="969" y="840" width="1" height="20" fill="#c3c3c3" shape-rendering="crispEdges"/>
<text x="972.4" y="854.0" font-size="10.6" fill="#111" textLength="11.8" lengthAdjust="spacing" stroke="#111" stroke-width="0.28">29</text>
<rect x="996" y="840" width="1" height="20" fill="#c3c3c3" shape-rendering="crispEdges"/>
<text x="999.2" y="854.0" font-size="10.6" fill="#111" textLength="11.8" lengthAdjust="spacing" stroke="#111" stroke-width="0.28">06</text>
<rect x="1024" y="840" width="1" height="20" fill="#c3c3c3" shape-rendering="crispEdges"/>
<text x="1027.1" y="854.0" font-size="10.6" fill="#111" textLength="11.8" lengthAdjust="spacing" stroke="#111" stroke-width="0.28">13</text>
<rect x="1051" y="840" width="1" height="20" fill="#c3c3c3" shape-rendering="crispEdges"/>
<text x="1054.0" y="854.0" font-size="10.6" fill="#111" textLength="11.8" lengthAdjust="spacing" stroke="#111" stroke-width="0.28">20</text>
<rect x="1078" y="840" width="1" height="20" fill="#c3c3c3" shape-rendering="crispEdges"/>
<text x="1080.8" y="854.0" font-size="10.6" fill="#111" textLength="11.8" lengthAdjust="spacing" stroke="#111" stroke-width="0.28">27</text>
<rect x="1105" y="840" width="1" height="20" fill="#c3c3c3" shape-rendering="crispEdges"/>
<text x="1107.7" y="854.0" font-size="10.6" fill="#111" textLength="11.8" lengthAdjust="spacing" stroke="#111" stroke-width="0.28">04</text>
<rect x="1126" y="840" width="1" height="20" fill="#c3c3c3" shape-rendering="crispEdges"/>
<text x="1129.5" y="854.0" font-size="10.6" fill="#111" textLength="11.8" lengthAdjust="spacing" stroke="#111" stroke-width="0.28">10</text>
<rect x="1154" y="840" width="1" height="20" fill="#c3c3c3" shape-rendering="crispEdges"/>
<text x="1157.0" y="854.0" font-size="10.6" fill="#111" textLength="11.8" lengthAdjust="spacing" stroke="#111" stroke-width="0.28">17</text>
<rect x="1181" y="840" width="1" height="20" fill="#c3c3c3" shape-rendering="crispEdges"/>
<text x="1183.9" y="854.0" font-size="10.6" fill="#111" textLength="11.8" lengthAdjust="spacing" stroke="#111" stroke-width="0.28">24</text>
<rect x="1208" y="840" width="1" height="20" fill="#c3c3c3" shape-rendering="crispEdges"/>
<text x="1210.7" y="854.0" font-size="10.6" fill="#111" textLength="11.8" lengthAdjust="spacing" stroke="#111" stroke-width="0.28">07</text>
<rect x="1235" y="840" width="1" height="20" fill="#c3c3c3" shape-rendering="crispEdges"/>
<text x="1237.9" y="854.0" font-size="10.6" fill="#111" textLength="11.8" lengthAdjust="spacing" stroke="#111" stroke-width="0.28">14</text>
<rect x="1262" y="840" width="1" height="20" fill="#c3c3c3" shape-rendering="crispEdges"/>
<text x="1264.7" y="854.0" font-size="10.6" fill="#111" textLength="11.8" lengthAdjust="spacing" stroke="#111" stroke-width="0.28">21</text>
<rect x="1289" y="840" width="1" height="20" fill="#c3c3c3" shape-rendering="crispEdges"/>
<text x="1292.2" y="854.0" font-size="10.6" fill="#111" textLength="11.8" lengthAdjust="spacing" stroke="#111" stroke-width="0.28">28</text>
<rect x="1316" y="840" width="1" height="20" fill="#c3c3c3" shape-rendering="crispEdges"/>
<text x="1319.1" y="854.0" font-size="10.6" fill="#111" textLength="11.8" lengthAdjust="spacing" stroke="#111" stroke-width="0.28">07</text>
<rect x="1343" y="840" width="1" height="20" fill="#c3c3c3" shape-rendering="crispEdges"/>
<text x="1346.3" y="854.0" font-size="10.6" fill="#111" textLength="11.8" lengthAdjust="spacing" stroke="#111" stroke-width="0.28">12</text>
<rect x="1360" y="840" width="1" height="20" fill="#c3c3c3" shape-rendering="crispEdges"/>
<text x="1362.7" y="854.0" font-size="10.6" fill="#111" textLength="11.8" lengthAdjust="spacing" stroke="#111" stroke-width="0.28">17</text>
<rect x="1376" y="840" width="1" height="20" fill="#c3c3c3" shape-rendering="crispEdges"/>
<text x="1379.5" y="854.0" font-size="10.6" fill="#111" textLength="11.8" lengthAdjust="spacing" stroke="#111" stroke-width="0.28">22</text>
<rect x="1403" y="840" width="1" height="20" fill="#c3c3c3" shape-rendering="crispEdges"/>
<text x="1406.4" y="854.0" font-size="10.6" fill="#111" textLength="11.8" lengthAdjust="spacing" stroke="#111" stroke-width="0.28">27</text>
<rect x="1419" y="840" width="1" height="20" fill="#c3c3c3" shape-rendering="crispEdges"/>
<text x="1422.5" y="854.0" font-size="10.6" fill="#111" textLength="11.8" lengthAdjust="spacing" stroke="#111" stroke-width="0.28">01</text>
<rect x="1436" y="840" width="1" height="20" fill="#c3c3c3" shape-rendering="crispEdges"/>
<text x="1438.6" y="854.0" font-size="10.6" fill="#111" textLength="11.8" lengthAdjust="spacing" stroke="#111" stroke-width="0.28">06</text>
<rect x="1452" y="840" width="1" height="20" fill="#c3c3c3" shape-rendering="crispEdges"/>
<text x="1455.0" y="854.0" font-size="10.6" fill="#111" textLength="11.8" lengthAdjust="spacing" stroke="#111" stroke-width="0.28">11</text>
<rect x="1478" y="840" width="1" height="20" fill="#c3c3c3" shape-rendering="crispEdges"/>
<text x="1481.2" y="854.0" font-size="10.6" fill="#111" textLength="11.8" lengthAdjust="spacing" stroke="#111" stroke-width="0.28">16</text>
<rect x="1495" y="840" width="1" height="20" fill="#c3c3c3" shape-rendering="crispEdges"/>
<text x="1498.0" y="854.0" font-size="10.6" fill="#111" textLength="11.8" lengthAdjust="spacing" stroke="#111" stroke-width="0.28">21</text>
<rect x="1512" y="840" width="1" height="20" fill="#c3c3c3" shape-rendering="crispEdges"/>
<text x="1514.8" y="854.0" font-size="10.6" fill="#111" textLength="11.8" lengthAdjust="spacing" stroke="#111" stroke-width="0.28">26</text>
<rect x="1538" y="840" width="1" height="20" fill="#c3c3c3" shape-rendering="crispEdges"/>
<text x="1541.0" y="854.0" font-size="10.6" fill="#111" textLength="11.8" lengthAdjust="spacing" stroke="#111" stroke-width="0.28">01</text>
<rect x="1554" y="840" width="1" height="20" fill="#c3c3c3" shape-rendering="crispEdges"/>
<text x="1557.4" y="854.0" font-size="10.6" fill="#111" textLength="11.8" lengthAdjust="spacing" stroke="#111" stroke-width="0.28">06</text>
<rect x="1570" y="840" width="1" height="20" fill="#c3c3c3" shape-rendering="crispEdges"/>
<text x="1573.5" y="854.0" font-size="10.6" fill="#111" textLength="11.8" lengthAdjust="spacing" stroke="#111" stroke-width="0.28">11</text>
<rect x="1587" y="840" width="1" height="20" fill="#c3c3c3" shape-rendering="crispEdges"/>
<text x="1590.3" y="854.0" font-size="10.6" fill="#111" textLength="11.8" lengthAdjust="spacing" stroke="#111" stroke-width="0.28">16</text>
<rect x="1614" y="840" width="1" height="20" fill="#c3c3c3" shape-rendering="crispEdges"/>
<text x="1617.2" y="854.0" font-size="10.6" fill="#111" textLength="11.8" lengthAdjust="spacing" stroke="#111" stroke-width="0.28">21</text>
<rect x="1630" y="840" width="1" height="20" fill="#c3c3c3" shape-rendering="crispEdges"/>
<text x="1633.3" y="854.0" font-size="10.6" fill="#111" textLength="11.8" lengthAdjust="spacing" stroke="#111" stroke-width="0.28">26</text>
<rect x="1647" y="840" width="1" height="20" fill="#c3c3c3" shape-rendering="crispEdges"/>
<text x="1649.7" y="854.0" font-size="10.6" fill="#111" textLength="11.8" lengthAdjust="spacing" stroke="#111" stroke-width="0.28">31</text>
<rect x="1674" y="840" width="1" height="20" fill="#c3c3c3" shape-rendering="crispEdges"/>
<text x="1676.6" y="854.0" font-size="10.6" fill="#111" textLength="11.8" lengthAdjust="spacing" stroke="#111" stroke-width="0.28">05</text>
<rect x="1690" y="840" width="1" height="20" fill="#c3c3c3" shape-rendering="crispEdges"/>
<text x="1693.4" y="854.0" font-size="10.6" fill="#111" textLength="11.8" lengthAdjust="spacing" stroke="#111" stroke-width="0.28">10</text>
<rect x="1706" y="840" width="1" height="20" fill="#c3c3c3" shape-rendering="crispEdges"/>
<text x="1709.5" y="854.0" font-size="10.6" fill="#111" textLength="11.8" lengthAdjust="spacing" stroke="#111" stroke-width="0.28">15</text>
<rect x="1723" y="840" width="1" height="20" fill="#c3c3c3" shape-rendering="crispEdges"/>
<text x="1726.3" y="854.0" font-size="10.6" fill="#111" textLength="11.8" lengthAdjust="spacing" stroke="#111" stroke-width="0.28">20</text>
<rect x="1749" y="840" width="1" height="20" fill="#c3c3c3" shape-rendering="crispEdges"/>
<text x="1752.5" y="854.0" font-size="10.6" fill="#111" textLength="11.8" lengthAdjust="spacing" stroke="#111" stroke-width="0.28">25</text>
<rect x="1766" y="840" width="1" height="20" fill="#c3c3c3" shape-rendering="crispEdges"/>
<text x="1768.9" y="854.0" font-size="10.6" fill="#111" textLength="11.8" lengthAdjust="spacing" stroke="#111" stroke-width="0.28">30</text>
<rect x="65" y="861" width="1" height="18" fill="#c3c3c3" shape-rendering="crispEdges"/>
<text x="-20.4" y="872.9" font-size="10.9" fill="#111" stroke="#111" stroke-width="0.28">Mar 2021</text>
<rect x="170" y="861" width="1" height="18" fill="#c3c3c3" shape-rendering="crispEdges"/>
<text x="118.0" y="872.9" font-size="10.9" fill="#111" text-anchor="middle" stroke="#111" stroke-width="0.28">Apr 2021</text>
<rect x="282" y="861" width="1" height="18" fill="#c3c3c3" shape-rendering="crispEdges"/>
<text x="226.6" y="872.9" font-size="10.9" fill="#111" text-anchor="middle" stroke="#111" stroke-width="0.28">May 2021</text>
<rect x="401" y="861" width="1" height="18" fill="#c3c3c3" shape-rendering="crispEdges"/>
<text x="342.1" y="872.9" font-size="10.9" fill="#111" text-anchor="middle" stroke="#111" stroke-width="0.28">Jun 2021</text>
<rect x="518" y="861" width="1" height="18" fill="#c3c3c3" shape-rendering="crispEdges"/>
<text x="460.1" y="872.9" font-size="10.9" fill="#111" text-anchor="middle" stroke="#111" stroke-width="0.28">Jul 2021</text>
<rect x="639" y="861" width="1" height="18" fill="#c3c3c3" shape-rendering="crispEdges"/>
<text x="578.9" y="872.9" font-size="10.9" fill="#111" text-anchor="middle" stroke="#111" stroke-width="0.28">Aug 2021</text>
<rect x="747" y="861" width="1" height="18" fill="#c3c3c3" shape-rendering="crispEdges"/>
<text x="693.4" y="872.9" font-size="10.9" fill="#111" text-anchor="middle" stroke="#111" stroke-width="0.28">Sep 2021</text>
<rect x="861" y="861" width="1" height="18" fill="#c3c3c3" shape-rendering="crispEdges"/>
<text x="804.7" y="872.9" font-size="10.9" fill="#111" text-anchor="middle" stroke="#111" stroke-width="0.28">Oct 2021</text>
<rect x="980" y="861" width="1" height="18" fill="#c3c3c3" shape-rendering="crispEdges"/>
<text x="921.0" y="872.9" font-size="10.9" fill="#111" text-anchor="middle" stroke="#111" stroke-width="0.28">Nov 2021</text>
<rect x="1101" y="861" width="1" height="18" fill="#c3c3c3" shape-rendering="crispEdges"/>
<text x="1041.0" y="872.9" font-size="10.9" fill="#111" text-anchor="middle" stroke="#111" stroke-width="0.28">Dec 2021</text>
<rect x="1204" y="861" width="1" height="18" fill="#c3c3c3" shape-rendering="crispEdges"/>
<text x="1153.2" y="872.9" font-size="10.9" fill="#111" text-anchor="middle" stroke="#111" stroke-width="0.28">Jan 2022</text>
<rect x="1294" y="861" width="1" height="18" fill="#c3c3c3" shape-rendering="crispEdges"/>
<text x="1249.8" y="872.9" font-size="10.9" fill="#111" text-anchor="middle" stroke="#111" stroke-width="0.28">Feb 2022</text>
<rect x="1419" y="861" width="1" height="18" fill="#c3c3c3" shape-rendering="crispEdges"/>
<text x="1357.3" y="872.9" font-size="10.9" fill="#111" text-anchor="middle" stroke="#111" stroke-width="0.28">Mar 2022</text>
<rect x="1538" y="861" width="1" height="18" fill="#c3c3c3" shape-rendering="crispEdges"/>
<text x="1479.2" y="872.9" font-size="10.9" fill="#111" text-anchor="middle" stroke="#111" stroke-width="0.28">Apr 2022</text>
<rect x="1652" y="861" width="1" height="18" fill="#c3c3c3" shape-rendering="crispEdges"/>
<text x="1595.5" y="872.9" font-size="10.9" fill="#111" text-anchor="middle" stroke="#111" stroke-width="0.28">May 2022</text>
<rect x="1771" y="861" width="1" height="18" fill="#c3c3c3" shape-rendering="crispEdges"/>
<text x="1712.1" y="872.9" font-size="10.9" fill="#111" text-anchor="middle" stroke="#111" stroke-width="0.28">Jun 2022</text>
<rect x="1820" y="861" width="1" height="18" fill="#c3c3c3" shape-rendering="crispEdges"/>
<text x="1774.5" y="872.9" font-size="10.9" fill="#111" stroke="#111" stroke-width="0.28">Jul 2022</text>
</g>
<rect x="1783" y="861" width="92" height="17" fill="#fff"/>
<rect x="1792.5" y="861.5" width="81" height="15" rx="1" fill="#f7f7f7" stroke="#c4c4c4"/>
<clipPath id="cpN"><rect x="1793" y="862" width="51.2" height="14"/></clipPath>
<text x="1795.0" y="873.9" font-size="10.8" fill="#111" textLength="51.6" lengthAdjust="spacing" stroke="#111" stroke-width="0.28" clip-path="url(#cpN)">0.3434755</text>
<rect x="1845" y="862" width="1" height="14" fill="#c4c4c4" shape-rendering="crispEdges"/>
<text x="1849.2" y="872.1" font-size="7.6" fill="#333" textLength="9.9" lengthAdjust="spacing" font-weight="bold">XY</text>
<g fill="#444"><rect x="1863.2" y="867.7" width="8.8" height="7.2" rx="0.8"/><path d="M1866 867.5 v-1.3 a2.4 2.4 0 0 1 4.8 0 v2" fill="none" stroke="#444" stroke-width="1.3"/><path d="M1866.2 870.3 h2.8 l-1.4 1.7 z" fill="#fff"/></g>
<rect x="1847.5" y="38.5" width="27" height="27" rx="2" fill="#fff" stroke="#d4d4d4"/>
<g fill="#686868"><rect x="1852.2" y="50.2" width="17.8" height="10.7" rx="1.6"/><path d="M1855.6 51.5 v-3.6 a5.5 5.5 0 0 1 11 0 v3.6" fill="none" stroke="#686868" stroke-width="2.5"/><circle cx="1861.1" cy="54.6" r="1.2" fill="#fff"/><path d="M1860.5 55 h1.2 l0.5 3.2 h-2.2 z" fill="#fff"/></g>
<path d="M1875.5 437.5 H1866 a2.5 2.5 0 0 0 -2.5 2.5 V464 a2.5 2.5 0 0 0 2.5 2.5 H1875.5" fill="#fdfdfd" stroke="#cfcfcf"/>
<path d="M1872.2 447.6 L1867.2 452.2 L1872.2 456.8" fill="none" stroke="#7a7a7a" stroke-width="2.4"/>
<text x="13.4" y="895.3" font-size="11.3" fill="#222" textLength="731.5" lengthAdjust="spacing" stroke="#222" stroke-width="0.28">Date: Monday, August 2, 2021 Open: 48.88 High: 50.04 Low: 48.59 Close: 49.27 Range: 1.44 Volume: 418,500 Position: 2590 Cursor Value : 64.69</text>
</svg></body></html>
